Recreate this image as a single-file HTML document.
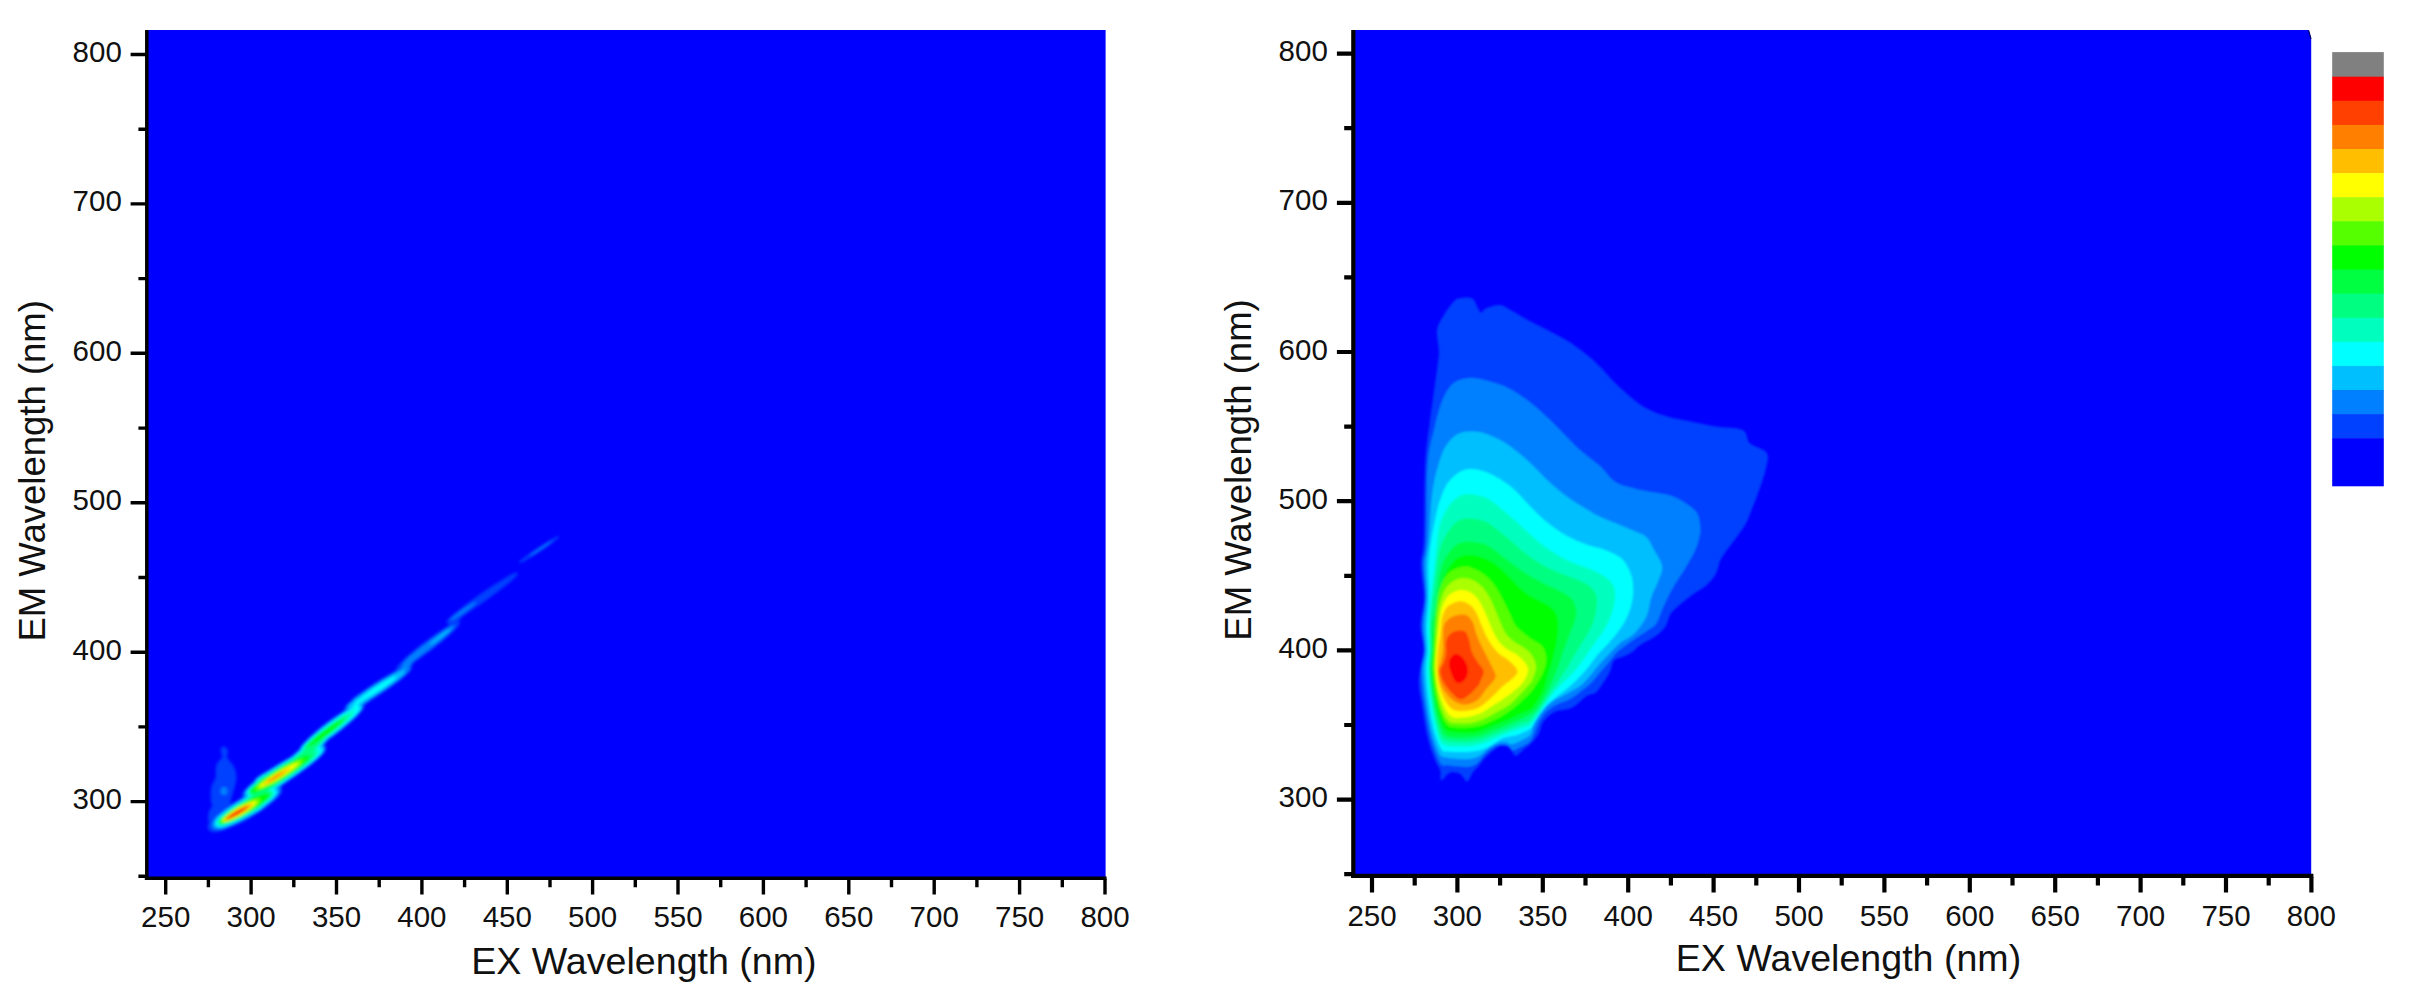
<!DOCTYPE html>
<html lang="en"><head><meta charset="utf-8"><title>EEM contour plots</title>
<style>html,body{margin:0;padding:0;background:#fff}svg{display:block}text{font-family:"Liberation Sans",Arial,Helvetica,sans-serif;fill:#111}.tk{font-size:29.5px}.tt{font-size:36.5px}</style></head><body>
<svg width="2420" height="997" viewBox="0 0 2420 997">
<defs><filter id="b1" x="-20%" y="-20%" width="140%" height="140%"><feGaussianBlur stdDeviation="1.6"/></filter><filter id="b2" x="-5%" y="-5%" width="110%" height="110%"><feGaussianBlur stdDeviation="0.85"/></filter><clipPath id="cl"><rect x="148" y="30" width="957.5" height="847"/></clipPath><clipPath id="cr"><rect x="1355" y="30" width="956.2" height="844"/></clipPath></defs>
<rect width="2420" height="997" fill="#fff"/>
<rect x="146" y="30" width="959.6" height="848.5" fill="#0000FF"/>
<g id="leftdata" clip-path="url(#cl)">
<g filter="url(#b1)">
<path d="M221 747.5L224.5 746.5L227.5 749L228 753L226.5 756.5L229 760L233 765L236 772L236.5 779L235 786L233 793L231 799L230 806L226 812L218 813L213 808L211 802L210.5 793L211.5 786L214 781L216 776L215.5 769L217 763L221 759L222.5 756L220.5 752Z" fill="#0040FF"/>
<ellipse cx="216.5" cy="817" rx="8.5" ry="12" fill="#0040FF"/>
<ellipse cx="224" cy="791" rx="3.5" ry="4" fill="#0080FF"/>
<path d="M212.0 826.0L212.6 824.1L212.9 822.3L213.0 820.1L212.7 818.0L213.1 817.5L214.1 816.9L215.0 816.2L216.0 815.5L216.9 814.8L217.8 814.1L218.8 813.5L219.7 812.8L220.7 812.1L221.6 811.4L222.5 810.8L223.5 810.1L224.4 809.4L225.4 808.7L226.3 808.1L227.3 807.5L228.3 806.9L229.2 806.2L230.2 805.6L231.2 805.0L232.2 804.4L233.1 803.8L234.1 803.1L235.1 802.5L236.0 801.9L237.0 801.3L237.9 800.7L238.9 800.1L239.8 799.5L240.7 798.9L241.6 798.2L242.6 797.6L243.5 796.9L244.5 796.3L245.5 795.6L246.5 794.9L247.4 794.3L247.0 794.6L247.0 794.9L247.3 795.0L247.8 793.6L248.4 792.1L249.1 790.5L250.1 788.4L251.1 786.4L252.4 783.9L253.8 781.2L255.3 778.5L256.9 777.1L258.9 775.6L261.2 774.0L262.3 773.4L263.3 772.8L264.3 772.2L265.3 771.6L266.3 771.0L267.4 770.4L268.4 769.8L269.4 769.2L270.4 768.6L271.5 768.0L272.5 767.4L273.5 766.8L274.5 766.2L275.6 765.6L276.6 765.0L277.6 764.4L278.6 763.8L279.6 763.2L280.7 762.6L281.7 762.0L282.7 761.4L283.7 760.8L284.8 760.2L285.8 759.6L286.8 759.1L287.6 758.7L288.4 758.3L289.2 757.9L289.9 757.3L290.8 756.6L291.6 755.8L292.6 755.0L293.7 754.0L294.7 753.1L295.8 752.2L296.7 751.3L297.6 750.5L298.6 749.7L299.5 748.6L300.5 747.6L301.5 746.5L302.5 745.3L303.6 744.1L304.7 743.0L305.8 741.7L306.9 740.5L308.1 739.2L309.2 738.1L310.3 737.1L311.5 736.0L312.5 735.0L313.6 734.1L314.6 733.1L315.7 732.2L316.7 731.2L317.9 730.1L319.1 729.0L320.3 727.9L321.4 727.0L322.6 726.2L323.8 725.4L324.8 724.7L325.8 723.9L326.8 723.2L327.8 722.5L328.9 721.8L329.9 721.1L330.9 720.4L331.9 719.7L332.9 718.9L333.9 718.3L334.9 717.6L335.9 716.9L336.8 716.1L337.8 715.4L338.8 714.6L339.8 713.8L340.8 713.1L341.8 712.3L342.9 711.5L343.9 710.7L344.9 709.9L345.5 709.5L346.2 709.0L346.9 708.5L347.7 707.1L348.6 705.6L349.5 704.1L350.7 702.1L351.9 700.1L353.2 698.0L354.5 697.0L356.0 695.9L357.6 694.9L358.6 694.2L359.6 693.6L360.6 692.9L361.6 692.3L362.6 691.6L363.6 691.0L364.7 690.3L365.7 689.7L366.7 689.0L367.7 688.4L368.7 687.7L369.7 687.1L370.8 686.4L371.8 685.8L372.8 685.1L373.8 684.5L374.8 683.8L375.8 683.2L376.9 682.5L377.9 681.9L378.9 681.2L379.9 680.6L380.9 679.9L381.9 679.3L383.0 678.6L384.0 678.0L385.0 677.3L386.0 676.7L387.0 676.0L388.0 675.4L389.1 674.8L390.1 674.1L391.1 673.5L392.1 672.8L393.1 672.2L394.1 671.5L395.1 670.9L396.2 670.2L396.8 669.9L397.5 669.5L398.3 669.1L399.1 667.8L399.9 666.5L400.8 665.1L401.8 663.6L402.9 662.0L404.0 660.3L405.2 658.6L406.3 656.9L407.6 655.9L408.8 654.9L410.1 653.9L411.1 653.2L412.1 652.4L413.2 651.7L414.2 650.9L415.2 650.2L416.2 649.4L417.2 648.7L418.2 647.9L419.3 647.2L420.3 646.4L421.3 645.7L422.3 644.9L423.3 644.2L424.3 643.4L425.4 642.7L426.4 641.9L427.4 641.2L428.4 640.4L429.4 639.6L430.5 638.9L431.5 638.2L432.5 637.4L433.5 636.7L434.6 636.0L435.6 635.3L436.6 634.5L437.6 633.8L438.6 633.1L439.6 632.4L440.7 631.6L441.7 630.9L442.7 630.2L443.7 629.5L444.7 628.7L445.5 628.2L446.3 627.7L447.1 627.2L448.0 625.7L449.0 624.1L449.9 622.6L450.9 620.9L451.9 619.3L453.1 617.5L454.2 615.6L455.3 613.8L456.5 612.9L457.7 612.0L459.0 611.1L460.0 610.4L461.0 609.6L462.0 608.9L463.1 608.2L464.1 607.5L465.1 606.8L466.1 606.1L467.1 605.3L468.2 604.6L469.2 603.9L470.2 603.2L471.2 602.5L472.2 601.7L473.2 601.0L474.3 600.3L475.3 599.6L476.3 598.9L477.3 598.2L478.3 597.4L479.4 596.7L480.4 596.0L481.4 595.3L482.4 594.6L483.4 593.9L484.5 593.1L485.5 592.4L486.5 591.7L487.6 591.1L488.6 590.4L489.6 589.7L490.7 589.1L491.7 588.4L492.7 587.8L493.8 587.1L494.8 586.4L495.8 585.8L496.9 585.1L497.9 584.5L498.9 583.8L500.0 583.1L501.0 582.5L502.0 581.8L503.1 581.2L504.1 580.5L505.1 579.8L506.2 579.2L507.2 578.5L508.2 577.9L509.3 577.2L510.4 576.7L511.5 576.1L512.6 575.6L513.8 575.0L514.9 574.5L516.0 574.0L516.0 574.0L515.1 574.9L514.2 575.8L513.4 576.6L512.5 577.5L511.6 578.4L510.7 579.3L509.8 580.0L508.8 580.8L507.8 581.5L506.9 582.3L505.9 583.1L504.9 583.8L504.0 584.6L503.0 585.3L502.0 586.1L501.1 586.8L500.1 587.6L499.1 588.3L498.2 589.1L497.2 589.8L496.2 590.6L495.3 591.4L494.3 592.1L493.3 592.9L492.4 593.6L491.4 594.4L490.4 595.1L489.5 595.9L488.5 596.6L487.5 597.4L486.6 598.1L485.6 598.9L484.6 599.6L483.6 600.4L482.6 601.2L481.7 601.9L480.7 602.7L479.7 603.5L478.7 604.2L477.7 605.0L476.8 605.8L475.8 606.5L474.8 607.3L473.8 608.1L472.8 608.8L471.8 609.6L470.9 610.4L469.9 611.1L468.9 611.9L467.9 612.7L466.9 613.4L466.0 614.2L465.0 615.0L464.0 615.7L463.0 616.5L462.3 617.0L461.5 617.6L460.7 618.2L459.8 619.7L458.9 621.3L458.1 622.9L457.1 624.6L456.1 626.3L455.0 628.1L454.0 630.0L452.9 631.8L451.7 632.8L450.5 633.8L449.3 634.8L448.3 635.5L447.3 636.3L446.3 637.1L445.3 637.9L444.4 638.6L443.4 639.4L442.4 640.2L441.4 641.0L440.4 641.7L439.4 642.5L438.5 643.3L437.5 644.1L436.5 644.8L435.5 645.6L434.6 646.4L433.6 647.1L432.6 647.9L431.6 648.7L430.6 649.5L429.7 650.3L428.7 651.1L427.7 651.9L426.7 652.7L425.7 653.5L424.7 654.3L423.8 655.1L422.8 655.9L421.8 656.7L420.8 657.5L419.8 658.3L418.8 659.0L417.9 659.8L416.9 660.6L415.9 661.4L415.2 662.0L414.4 662.6L413.7 663.1L412.8 664.5L412.0 665.9L411.1 667.3L410.2 668.9L409.2 670.5L408.1 672.3L406.9 674.0L405.7 675.9L404.5 676.8L403.2 677.8L401.8 678.8L400.9 679.4L399.9 680.1L398.9 680.8L397.9 681.5L396.9 682.2L395.9 682.9L394.9 683.6L394.0 684.3L393.0 685.0L392.0 685.7L391.0 686.3L390.0 687.0L389.0 687.7L388.1 688.4L387.1 689.1L386.1 689.8L385.1 690.5L384.1 691.2L383.1 691.9L382.2 692.6L381.2 693.3L380.2 694.0L379.2 694.7L378.2 695.4L377.2 696.0L376.3 696.7L375.3 697.4L374.3 698.1L373.3 698.8L372.3 699.5L371.3 700.2L370.4 700.9L369.4 701.6L368.4 702.3L367.4 703.0L366.4 703.7L365.4 704.4L364.4 705.1L364.0 705.4L363.5 705.7L362.8 706.0L362.1 707.4L361.3 708.9L360.5 710.4L359.4 712.4L358.3 714.4L357.1 716.5L355.8 717.6L354.5 718.8L353.1 720.0L352.1 720.8L351.1 721.7L350.2 722.5L349.2 723.3L348.2 724.2L347.2 725.0L346.2 725.9L345.2 726.8L344.1 727.6L343.1 728.4L342.1 729.2L341.1 730.0L340.1 730.7L339.1 731.5L338.1 732.3L337.1 733.0L336.2 733.8L335.2 734.5L334.2 735.3L333.2 736.1L332.2 736.8L331.4 737.4L330.6 738.1L329.7 738.7L328.9 739.6L328.1 740.6L327.3 741.5L326.3 742.6L325.4 743.7L324.4 744.7L323.5 745.8L322.5 746.9L321.7 747.9L320.8 748.8L319.9 749.8L319.1 751.0L318.2 752.2L317.3 753.4L316.4 754.6L315.5 755.9L314.5 757.2L313.5 758.5L312.5 759.9L311.4 761.3L310.4 762.5L309.3 763.6L308.2 764.8L307.3 765.8L306.3 766.9L305.4 767.9L304.4 769.0L303.2 770.2L302.1 771.5L300.8 772.6L299.6 773.6L298.4 774.5L297.2 775.3L296.2 776.0L295.2 776.7L294.3 777.4L293.3 778.1L292.3 778.7L291.3 779.4L290.4 780.1L289.4 780.7L288.4 781.4L287.4 782.1L286.4 782.8L285.5 783.4L284.5 784.1L283.5 784.8L282.5 785.5L281.6 786.1L280.6 786.8L279.6 787.5L278.6 788.1L277.7 788.8L276.7 789.5L275.7 790.2L274.7 790.8L273.7 791.5L272.8 792.2L273.1 791.9L273.1 791.6L272.7 791.5L272.2 792.9L271.6 794.4L270.9 796.0L269.9 798.1L268.9 800.1L267.6 802.6L266.2 805.3L264.7 808.0L263.0 809.4L261.0 810.9L258.6 812.4L257.5 813.0L256.5 813.6L255.5 814.1L254.5 814.7L253.4 815.3L252.4 815.8L251.3 816.4L250.2 817.0L249.1 817.6L248.1 818.1L247.0 818.7L246.0 819.2L244.9 819.7L243.9 820.2L242.9 820.8L241.8 821.3L240.8 821.8L239.8 822.3L238.8 822.9L237.7 823.4L236.7 823.9L235.7 824.4L234.6 825.0L233.6 825.4L232.5 825.9L231.5 826.4L230.4 826.8L229.3 827.3L228.3 827.8L227.2 828.2L226.2 828.7L225.1 829.2L224.0 829.6L223.0 830.1L221.9 830.6L220.9 831.0L219.3 831.8L217.0 830.8L215.1 829.7L213.4 827.9L212.0 826.0Z" fill="#0040FF"/>
<path d="M208.0 829.6L207.7 824.9L209.0 822.8L210.4 820.9L211.9 819.2L213.4 817.7L215.0 816.1L216.6 814.7L218.3 813.3L220.0 811.9L221.7 810.6L223.4 809.3L225.1 808.0L226.9 806.7L228.6 805.5L230.4 804.3L232.2 803.2L234.0 802.0L235.8 800.9L237.6 799.8L239.5 798.7L241.3 797.6L243.2 796.6L245.1 795.6L247.0 794.6L248.9 793.6L250.8 792.7L252.8 791.8L254.7 790.9L256.7 790.0L258.7 789.2L260.7 788.4L262.7 787.6L264.7 786.9L266.8 786.2L268.9 785.6L271.1 785.0L273.3 784.6L275.6 784.3L278.0 784.3L282.0 786.9L282.3 791.6L281.0 793.7L279.6 795.6L278.1 797.3L276.6 798.9L275.0 800.4L273.4 801.8L271.7 803.2L270.0 804.6L268.3 805.9L266.6 807.2L264.9 808.5L263.1 809.8L261.4 811.0L259.6 812.2L257.8 813.4L256.0 814.5L254.2 815.6L252.4 816.7L250.5 817.8L248.7 818.9L246.8 819.9L244.9 820.9L243.0 821.9L241.1 822.9L239.2 823.8L237.2 824.7L235.3 825.6L233.3 826.5L231.3 827.3L229.3 828.1L227.3 828.9L225.3 829.6L223.2 830.3L221.1 830.9L218.9 831.5L216.7 831.9L214.4 832.2L212.0 832.2Z" fill="#0040FF"/>
<path d="M242.0 797.8L242.1 793.3L243.6 791.0L245.3 789.1L247.1 787.2L248.9 785.5L250.8 783.8L252.7 782.2L254.6 780.6L256.5 779.0L258.5 777.5L260.4 776.0L262.4 774.5L264.4 773.1L266.5 771.6L268.5 770.2L270.5 768.9L272.6 767.5L274.7 766.2L276.7 764.8L278.8 763.5L280.9 762.2L283.1 761.0L285.2 759.7L287.3 758.5L289.5 757.3L291.7 756.1L293.8 755.0L296.0 753.8L298.2 752.7L300.5 751.6L302.7 750.6L305.0 749.5L307.3 748.5L309.6 747.6L311.9 746.7L314.3 745.8L316.7 745.1L319.2 744.5L321.9 744.1L326.0 746.0L325.9 750.5L324.4 752.8L322.7 754.7L320.9 756.6L319.1 758.3L317.2 760.0L315.3 761.6L313.4 763.2L311.5 764.8L309.5 766.3L307.6 767.8L305.6 769.3L303.6 770.7L301.5 772.2L299.5 773.6L297.5 774.9L295.4 776.3L293.3 777.7L291.3 779.0L289.2 780.3L287.1 781.6L284.9 782.8L282.8 784.1L280.7 785.3L278.5 786.5L276.3 787.7L274.2 788.8L272.0 790.0L269.8 791.1L267.5 792.2L265.3 793.2L263.0 794.3L260.7 795.3L258.4 796.2L256.1 797.1L253.7 798.0L251.3 798.7L248.8 799.3L246.1 799.7Z" fill="#0040FF"/>
<path d="M299.0 752.8L298.9 749.2L300.0 747.3L301.2 745.6L302.6 744.0L303.9 742.4L305.3 740.9L306.8 739.4L308.2 738.0L309.7 736.6L311.2 735.2L312.7 733.8L314.3 732.5L315.8 731.1L317.4 729.8L318.9 728.5L320.5 727.2L322.1 726.0L323.7 724.7L325.3 723.5L326.9 722.3L328.5 721.0L330.2 719.8L331.8 718.7L333.5 717.5L335.2 716.3L336.9 715.2L338.6 714.1L340.3 713.0L342.0 711.9L343.7 710.8L345.5 709.8L347.2 708.7L349.0 707.7L350.8 706.8L352.7 705.8L354.6 705.0L356.5 704.1L358.5 703.4L360.6 702.9L364.0 704.0L364.1 707.5L363.0 709.5L361.8 711.2L360.4 712.8L359.1 714.3L357.7 715.8L356.2 717.3L354.8 718.8L353.3 720.2L351.8 721.6L350.3 722.9L348.7 724.3L347.2 725.6L345.6 726.9L344.1 728.2L342.5 729.5L340.9 730.8L339.3 732.0L337.7 733.3L336.1 734.5L334.5 735.7L332.8 736.9L331.2 738.1L329.5 739.3L327.8 740.4L326.1 741.5L324.4 742.7L322.7 743.8L321.0 744.9L319.3 745.9L317.5 747.0L315.8 748.0L314.0 749.0L312.2 750.0L310.3 750.9L308.4 751.8L306.5 752.6L304.5 753.3L302.4 753.9Z" fill="#0040FF"/>
<path d="M344.0 710.5L344.4 707.4L345.7 705.7L347.1 704.1L348.6 702.7L350.1 701.3L351.7 700.0L353.2 698.6L354.8 697.3L356.4 696.1L358.0 694.8L359.6 693.6L361.2 692.4L362.9 691.2L364.5 690.0L366.2 688.8L367.8 687.6L369.5 686.5L371.2 685.4L372.9 684.2L374.6 683.1L376.3 682.0L378.0 680.9L379.7 679.9L381.4 678.8L383.2 677.7L384.9 676.7L386.7 675.7L388.4 674.7L390.2 673.7L392.0 672.7L393.8 671.8L395.6 670.8L397.4 669.9L399.3 669.0L401.1 668.2L403.0 667.3L404.9 666.6L406.9 665.9L409.0 665.4L412.0 666.3L411.6 669.4L410.3 671.1L408.9 672.7L407.4 674.1L405.9 675.5L404.3 676.8L402.8 678.2L401.2 679.5L399.6 680.7L398.0 682.0L396.4 683.2L394.8 684.4L393.1 685.6L391.5 686.8L389.8 688.0L388.2 689.2L386.5 690.3L384.8 691.4L383.1 692.6L381.4 693.7L379.7 694.8L378.0 695.9L376.3 696.9L374.6 698.0L372.8 699.1L371.1 700.1L369.3 701.1L367.6 702.1L365.8 703.1L364.0 704.1L362.2 705.0L360.4 706.0L358.6 706.9L356.7 707.8L354.9 708.6L353.0 709.5L351.1 710.2L349.1 710.9L347.0 711.4Z" fill="#0040FF"/>
<path d="M396.0 670.4L396.4 667.6L397.6 665.9L399.0 664.3L400.4 662.8L401.8 661.4L403.3 660.0L404.7 658.6L406.2 657.2L407.7 655.9L409.2 654.6L410.8 653.2L412.3 651.9L413.8 650.6L415.4 649.4L416.9 648.1L418.5 646.8L420.1 645.6L421.7 644.3L423.2 643.1L424.8 641.9L426.4 640.7L428.1 639.5L429.7 638.3L431.3 637.1L432.9 635.9L434.6 634.8L436.2 633.6L437.9 632.5L439.6 631.3L441.2 630.2L442.9 629.1L444.6 628.0L446.3 627.0L448.1 625.9L449.8 624.9L451.6 623.9L453.4 623.0L455.2 622.1L457.2 621.4L460.0 621.7L459.6 624.5L458.4 626.2L457.0 627.8L455.6 629.2L454.2 630.7L452.7 632.1L451.3 633.5L449.8 634.8L448.3 636.2L446.8 637.5L445.2 638.8L443.7 640.2L442.2 641.4L440.6 642.7L439.1 644.0L437.5 645.3L435.9 646.5L434.3 647.7L432.8 649.0L431.2 650.2L429.6 651.4L427.9 652.6L426.3 653.8L424.7 655.0L423.1 656.2L421.4 657.3L419.8 658.5L418.1 659.6L416.4 660.7L414.8 661.8L413.1 662.9L411.4 664.0L409.7 665.1L407.9 666.1L406.2 667.2L404.4 668.2L402.6 669.1L400.8 670.0L398.8 670.7Z" fill="#0040FF"/>
<path d="M446.0 623.2L446.9 620.6L448.4 619.0L450.0 617.4L451.7 616.0L453.3 614.5L455.0 613.1L456.7 611.7L458.4 610.3L460.2 608.9L461.9 607.6L463.6 606.2L465.4 604.9L467.1 603.6L468.9 602.3L470.7 601.0L472.4 599.7L474.2 598.4L476.0 597.1L477.8 595.8L479.6 594.6L481.4 593.3L483.2 592.1L485.0 590.8L486.8 589.6L488.7 588.4L490.5 587.1L492.3 585.9L494.2 584.7L496.0 583.6L497.9 582.4L499.8 581.2L501.6 580.1L503.5 578.9L505.4 577.8L507.3 576.7L509.3 575.6L511.2 574.6L513.2 573.6L515.3 572.8L518.0 572.8L517.1 575.4L515.6 577.0L514.0 578.6L512.3 580.0L510.7 581.5L509.0 582.9L507.3 584.3L505.6 585.7L503.8 587.1L502.1 588.4L500.4 589.8L498.6 591.1L496.9 592.4L495.1 593.7L493.3 595.0L491.6 596.3L489.8 597.6L488.0 598.9L486.2 600.2L484.4 601.4L482.6 602.7L480.8 603.9L479.0 605.2L477.2 606.4L475.3 607.6L473.5 608.9L471.7 610.1L469.8 611.3L468.0 612.4L466.1 613.6L464.2 614.8L462.4 615.9L460.5 617.1L458.6 618.2L456.7 619.3L454.7 620.4L452.8 621.4L450.8 622.4L448.7 623.2Z" fill="#0040FF"/>
<path d="M519.0 563.0L519.5 561.6L520.4 560.7L521.3 559.9L522.2 559.1L523.2 558.4L524.1 557.6L525.0 556.9L526.0 556.1L527.0 555.4L527.9 554.7L528.9 554.0L529.9 553.3L530.9 552.6L531.8 551.9L532.8 551.2L533.8 550.5L534.8 549.8L535.8 549.2L536.8 548.5L537.8 547.8L538.8 547.2L539.8 546.5L540.8 545.9L541.8 545.2L542.8 544.6L543.8 543.9L544.9 543.3L545.9 542.7L546.9 542.0L547.9 541.4L549.0 540.8L550.0 540.2L551.0 539.6L552.1 539.0L553.2 538.4L554.2 537.9L555.3 537.3L556.4 536.8L557.5 536.3L559.0 536.4L558.5 537.7L557.6 538.6L556.7 539.4L555.8 540.2L554.8 541.0L553.9 541.7L553.0 542.5L552.0 543.2L551.0 543.9L550.1 544.6L549.1 545.3L548.1 546.0L547.1 546.7L546.2 547.4L545.2 548.1L544.2 548.8L543.2 549.5L542.2 550.2L541.2 550.8L540.2 551.5L539.2 552.2L538.2 552.8L537.2 553.5L536.2 554.1L535.2 554.8L534.2 555.4L533.1 556.0L532.1 556.7L531.1 557.3L530.1 557.9L529.0 558.5L528.0 559.1L527.0 559.7L525.9 560.3L524.8 560.9L523.8 561.5L522.7 562.0L521.6 562.5L520.5 563.0Z" fill="#0040FF"/>
<path d="M214.0 826.0L214.4 823.8L214.5 821.8L214.5 819.9L214.6 817.8L215.6 817.1L216.5 816.4L217.4 815.8L218.4 815.1L219.3 814.4L220.2 813.7L221.2 813.0L222.1 812.3L223.1 811.7L224.0 811.0L224.9 810.3L225.9 809.6L226.8 809.0L227.8 808.4L228.8 807.7L229.7 807.1L230.7 806.5L231.7 805.9L232.6 805.2L233.6 804.6L234.6 804.0L235.6 803.3L236.5 802.7L237.5 802.1L238.4 801.5L239.3 800.9L240.3 800.3L241.2 799.6L242.1 799.0L243.1 798.4L244.0 797.7L245.0 797.0L246.0 796.4L246.9 795.7L247.9 795.0L247.6 795.3L247.7 795.5L248.0 795.5L248.5 794.1L249.2 792.5L249.9 790.9L250.8 788.8L251.9 786.8L253.1 784.3L254.5 781.7L255.9 779.0L257.6 777.7L259.5 776.2L261.7 774.7L262.7 774.1L263.7 773.5L264.8 772.9L265.8 772.3L266.8 771.7L267.8 771.1L268.8 770.5L269.9 769.9L270.9 769.3L271.9 768.7L272.9 768.1L274.0 767.5L275.0 766.9L276.0 766.3L277.0 765.7L278.1 765.1L279.1 764.5L280.1 763.9L281.1 763.3L282.1 762.7L283.2 762.1L284.2 761.5L285.2 760.9L286.3 760.4L287.3 759.8L288.1 759.4L288.9 759.0L289.7 758.6L290.5 758.0L291.3 757.2L292.2 756.5L293.2 755.6L294.2 754.6L295.3 753.7L296.4 752.8L297.3 751.9L298.3 751.1L299.2 750.3L300.2 749.2L301.2 748.1L302.1 747.0L303.2 745.9L304.3 744.7L305.3 743.5L306.4 742.3L307.6 741.0L308.7 739.8L309.8 738.7L310.9 737.7L312.1 736.6L313.1 735.6L314.2 734.7L315.2 733.7L316.3 732.7L317.3 731.8L318.5 730.7L319.7 729.6L320.8 728.5L322.0 727.7L323.1 726.9L324.3 726.1L325.3 725.4L326.3 724.7L327.4 723.9L328.4 723.2L329.4 722.5L330.4 721.8L331.4 721.1L332.5 720.4L333.5 719.7L334.5 719.0L335.5 718.3L336.4 717.7L337.4 716.9L338.4 716.2L339.4 715.4L340.4 714.6L341.4 713.8L342.5 713.0L343.5 712.3L344.5 711.5L345.5 710.7L346.2 710.2L346.9 709.7L347.8 709.2L348.6 707.7L349.5 706.2L350.4 704.6L351.6 702.7L352.8 700.7L354.0 698.7L355.3 697.8L356.7 696.8L358.2 695.8L359.2 695.1L360.2 694.5L361.2 693.8L362.3 693.2L363.3 692.6L364.3 691.9L365.3 691.3L366.3 690.6L367.4 690.0L368.4 689.3L369.4 688.7L370.4 688.1L371.4 687.4L372.4 686.8L373.5 686.1L374.5 685.5L375.5 684.8L376.5 684.2L377.5 683.5L378.6 682.9L379.6 682.3L380.6 681.6L381.6 681.0L382.7 680.3L383.7 679.7L384.7 679.1L385.7 678.5L386.8 677.8L387.8 677.2L388.8 676.6L389.9 675.9L390.9 675.3L391.9 674.7L392.9 674.1L394.0 673.4L395.0 672.8L396.0 672.2L397.0 671.6L397.8 671.1L398.6 670.7L399.5 670.2L400.4 668.9L401.3 667.5L402.3 666.1L403.3 664.5L404.3 663.0L405.4 661.3L406.6 659.7L407.7 658.0L408.9 657.2L410.0 656.3L411.2 655.4L412.3 654.7L413.3 653.9L414.3 653.2L415.4 652.5L416.4 651.7L417.4 651.0L418.4 650.3L419.5 649.5L420.5 648.8L421.5 648.1L422.6 647.3L423.6 646.6L424.6 645.9L425.7 645.1L426.7 644.4L427.7 643.7L428.8 642.9L429.8 642.2L430.8 641.5L431.9 640.7L432.9 640.0L433.9 639.3L435.0 638.6L436.0 637.9L437.0 637.2L438.1 636.5L439.1 635.8L440.1 635.1L441.1 634.4L442.2 633.6L443.2 632.9L444.2 632.2L445.3 631.6L446.5 631.0L447.5 630.5L448.6 629.9L449.7 629.3L450.9 627.7L452.0 626.1L452.0 626.1L451.1 627.9L450.3 629.7L449.4 630.6L448.5 631.5L447.5 632.5L446.7 633.4L445.8 634.3L444.8 635.1L443.8 635.9L442.9 636.6L441.9 637.4L440.9 638.2L439.9 639.0L439.0 639.8L438.0 640.6L437.0 641.4L436.1 642.2L435.1 643.0L434.1 643.8L433.2 644.5L432.2 645.4L431.2 646.2L430.3 647.0L429.3 647.8L428.3 648.6L427.4 649.4L426.4 650.2L425.4 651.0L424.5 651.9L423.5 652.7L422.5 653.5L421.6 654.3L420.6 655.1L419.6 655.9L418.6 656.7L417.7 657.5L416.7 658.3L415.7 659.2L414.8 660.0L414.0 660.6L413.1 661.3L412.3 662.0L411.4 663.4L410.6 664.9L409.7 666.4L408.7 668.0L407.7 669.6L406.7 671.3L405.6 673.0L404.5 674.8L403.4 675.6L402.2 676.5L401.0 677.4L400.0 678.2L399.0 678.9L398.0 679.6L397.1 680.3L396.1 681.0L395.1 681.7L394.1 682.4L393.2 683.1L392.2 683.8L391.2 684.5L390.3 685.2L389.3 685.9L388.3 686.6L387.3 687.3L386.4 688.0L385.4 688.7L384.4 689.4L383.4 690.1L382.5 690.8L381.5 691.5L380.5 692.2L379.5 692.9L378.5 693.6L377.6 694.3L376.6 695.1L375.6 695.8L374.6 696.5L373.6 697.2L372.6 697.9L371.7 698.6L370.7 699.3L369.7 700.0L368.7 700.7L367.7 701.4L366.8 702.1L365.8 702.8L364.8 703.5L363.8 704.2L363.3 704.5L362.7 704.9L362.0 705.3L361.2 706.8L360.4 708.3L359.6 709.9L358.5 711.8L357.4 713.8L356.2 715.8L355.1 716.9L353.8 718.0L352.5 719.2L351.5 720.0L350.5 720.9L349.5 721.7L348.6 722.6L347.6 723.4L346.6 724.3L345.6 725.1L344.6 726.0L343.6 726.8L342.5 727.6L341.5 728.4L340.5 729.2L339.5 730.0L338.6 730.8L337.6 731.5L336.6 732.3L335.6 733.0L334.6 733.8L333.7 734.6L332.7 735.3L331.7 736.1L330.9 736.8L330.0 737.4L329.2 738.1L328.3 739.0L327.5 740.0L326.7 740.9L325.7 742.0L324.8 743.1L323.8 744.1L322.9 745.2L321.9 746.3L321.1 747.3L320.2 748.3L319.3 749.2L318.4 750.4L317.6 751.6L316.7 752.8L315.7 754.1L314.8 755.4L313.9 756.6L312.8 758.0L311.8 759.4L310.8 760.7L309.7 761.9L308.7 763.0L307.6 764.2L306.7 765.2L305.8 766.3L304.8 767.3L303.8 768.4L302.7 769.6L301.5 770.9L300.3 772.0L299.1 772.9L297.9 773.8L296.7 774.6L295.7 775.3L294.8 776.0L293.8 776.7L292.8 777.3L291.9 778.0L290.9 778.7L289.9 779.4L288.9 780.0L287.9 780.7L287.0 781.4L286.0 782.0L285.0 782.7L284.0 783.4L283.1 784.1L282.1 784.7L281.1 785.4L280.1 786.1L279.2 786.7L278.2 787.4L277.2 788.1L276.2 788.8L275.2 789.4L274.3 790.1L273.3 790.8L272.3 791.4L272.5 791.2L272.4 791.0L272.1 791.0L271.5 792.4L270.9 794.0L270.1 795.6L269.2 797.7L268.1 799.7L266.8 802.2L265.5 804.8L264.0 807.5L262.3 808.8L260.4 810.2L258.1 811.7L257.1 812.2L256.0 812.8L255.0 813.3L254.0 813.9L252.9 814.5L251.9 815.1L250.8 815.6L249.7 816.2L248.7 816.8L247.6 817.3L246.5 817.9L245.5 818.4L244.4 818.9L243.4 819.4L242.4 819.9L241.4 820.4L240.3 821.0L239.3 821.5L238.3 822.0L237.2 822.5L236.2 823.0L235.2 823.6L234.1 824.1L233.1 824.5L232.0 825.0L230.9 825.5L229.9 825.9L228.8 826.4L227.8 826.8L226.7 827.3L225.6 827.8L224.6 828.2L223.5 828.7L222.4 829.2L221.4 829.6L219.5 828.7L217.5 827.9L215.6 827.0L214.0 826.0Z" fill="#0080FF"/>
<path d="M212.0 827.3L211.9 823.2L213.1 821.3L214.4 819.7L215.8 818.2L217.2 816.7L218.7 815.4L220.2 814.0L221.7 812.8L223.3 811.5L224.8 810.3L226.4 809.1L228.0 808.0L229.6 806.8L231.3 805.7L232.9 804.6L234.5 803.6L236.2 802.5L237.9 801.5L239.6 800.5L241.3 799.5L243.0 798.5L244.7 797.5L246.4 796.6L248.1 795.7L249.9 794.8L251.7 793.9L253.4 793.1L255.2 792.2L257.0 791.4L258.8 790.7L260.7 789.9L262.5 789.2L264.4 788.5L266.3 787.8L268.2 787.2L270.2 786.7L272.2 786.3L274.3 785.9L276.5 785.9L280.0 788.0L280.1 792.1L278.9 794.0L277.6 795.7L276.2 797.2L274.8 798.6L273.3 800.0L271.8 801.3L270.3 802.6L268.7 803.8L267.2 805.0L265.6 806.2L264.0 807.4L262.4 808.5L260.7 809.6L259.1 810.7L257.5 811.8L255.8 812.8L254.1 813.9L252.4 814.9L250.7 815.9L249.0 816.9L247.3 817.8L245.6 818.7L243.9 819.7L242.1 820.6L240.3 821.4L238.6 822.3L236.8 823.1L235.0 823.9L233.2 824.7L231.3 825.5L229.5 826.2L227.6 826.9L225.7 827.5L223.8 828.1L221.8 828.7L219.8 829.1L217.7 829.4L215.5 829.5Z" fill="#0080FF"/>
<path d="M244.0 796.5L244.2 792.4L245.7 790.3L247.4 788.4L249.1 786.6L250.8 785.0L252.6 783.4L254.5 781.8L256.3 780.3L258.2 778.8L260.1 777.3L262.0 775.9L263.9 774.5L265.9 773.1L267.8 771.7L269.8 770.4L271.8 769.1L273.7 767.7L275.7 766.4L277.7 765.2L279.8 763.9L281.8 762.7L283.8 761.5L285.9 760.3L288.0 759.1L290.0 757.9L292.1 756.8L294.2 755.6L296.3 754.5L298.5 753.4L300.6 752.4L302.8 751.4L304.9 750.4L307.1 749.4L309.3 748.4L311.6 747.6L313.9 746.7L316.2 746.0L318.6 745.3L321.2 745.0L325.0 746.6L324.8 750.8L323.3 752.9L321.6 754.8L319.9 756.6L318.2 758.2L316.4 759.8L314.5 761.4L312.7 762.9L310.8 764.4L308.9 765.9L307.0 767.3L305.1 768.7L303.1 770.1L301.2 771.5L299.2 772.8L297.2 774.1L295.3 775.5L293.3 776.7L291.3 778.0L289.2 779.3L287.2 780.5L285.2 781.7L283.1 782.9L281.0 784.1L279.0 785.3L276.9 786.4L274.8 787.6L272.7 788.7L270.5 789.7L268.4 790.8L266.2 791.8L264.1 792.8L261.9 793.8L259.7 794.7L257.4 795.6L255.1 796.5L252.8 797.2L250.4 797.8L247.8 798.2Z" fill="#0080FF"/>
<path d="M300.0 752.0L300.0 748.8L301.1 746.9L302.4 745.3L303.7 743.8L305.0 742.3L306.4 740.9L307.8 739.5L309.3 738.1L310.7 736.8L312.2 735.4L313.6 734.1L315.1 732.8L316.6 731.5L318.1 730.3L319.7 729.0L321.2 727.8L322.7 726.5L324.3 725.3L325.8 724.1L327.4 722.9L329.0 721.8L330.6 720.6L332.2 719.4L333.8 718.3L335.4 717.2L337.0 716.1L338.7 715.0L340.3 713.9L342.0 712.8L343.7 711.8L345.4 710.8L347.1 709.8L348.8 708.8L350.5 707.8L352.3 706.9L354.1 706.0L355.9 705.2L357.8 704.4L359.9 703.9L363.0 704.8L363.0 708.0L361.9 709.8L360.6 711.4L359.3 713.0L358.0 714.4L356.6 715.9L355.2 717.3L353.7 718.6L352.3 720.0L350.8 721.3L349.4 722.6L347.9 723.9L346.4 725.2L344.9 726.5L343.3 727.7L341.8 729.0L340.3 730.2L338.7 731.4L337.2 732.6L335.6 733.8L334.0 735.0L332.4 736.2L330.8 737.3L329.2 738.4L327.6 739.6L326.0 740.7L324.3 741.8L322.7 742.8L321.0 743.9L319.3 745.0L317.6 746.0L315.9 747.0L314.2 748.0L312.5 748.9L310.7 749.9L308.9 750.8L307.1 751.6L305.2 752.3L303.1 752.9Z" fill="#0080FF"/>
<path d="M346.0 709.2L346.5 706.5L347.8 705.0L349.2 703.6L350.6 702.2L352.0 701.0L353.5 699.7L355.0 698.5L356.5 697.3L358.0 696.1L359.5 695.0L361.0 693.8L362.6 692.7L364.1 691.6L365.7 690.5L367.2 689.4L368.8 688.3L370.4 687.2L372.0 686.1L373.6 685.1L375.2 684.0L376.8 683.0L378.4 682.0L380.0 680.9L381.6 679.9L383.2 679.0L384.9 678.0L386.5 677.0L388.2 676.0L389.8 675.1L391.5 674.2L393.2 673.2L394.9 672.3L396.6 671.5L398.3 670.6L400.0 669.8L401.8 669.0L403.6 668.2L405.4 667.5L407.3 667.0L410.0 667.6L409.5 670.3L408.2 671.8L406.8 673.2L405.4 674.6L404.0 675.8L402.5 677.1L401.0 678.3L399.5 679.5L398.0 680.7L396.5 681.8L395.0 683.0L393.4 684.1L391.9 685.2L390.3 686.3L388.8 687.4L387.2 688.5L385.6 689.6L384.0 690.7L382.4 691.7L380.8 692.8L379.2 693.8L377.6 694.8L376.0 695.9L374.4 696.9L372.8 697.8L371.1 698.8L369.5 699.8L367.8 700.8L366.2 701.7L364.5 702.6L362.8 703.6L361.1 704.5L359.4 705.3L357.7 706.2L356.0 707.0L354.2 707.8L352.4 708.6L350.6 709.3L348.7 709.8Z" fill="#0080FF"/>
<path d="M402.0 665.8L402.5 663.8L403.6 662.4L404.8 661.2L406.0 660.0L407.2 658.9L408.4 657.7L409.7 656.6L410.9 655.5L412.2 654.4L413.4 653.3L414.7 652.3L416.0 651.2L417.3 650.1L418.6 649.1L419.9 648.1L421.2 647.0L422.5 646.0L423.8 645.0L425.1 643.9L426.4 642.9L427.8 641.9L429.1 640.9L430.4 639.9L431.8 639.0L433.1 638.0L434.5 637.0L435.8 636.0L437.2 635.1L438.6 634.1L439.9 633.2L441.3 632.3L442.7 631.4L444.1 630.4L445.5 629.5L446.9 628.7L448.4 627.8L449.8 627.0L451.3 626.2L452.9 625.5L455.0 625.5L454.5 627.6L453.4 628.9L452.2 630.1L451.0 631.3L449.8 632.4L448.6 633.6L447.3 634.7L446.1 635.8L444.8 636.9L443.6 638.0L442.3 639.1L441.0 640.1L439.7 641.2L438.4 642.2L437.1 643.3L435.8 644.3L434.5 645.3L433.2 646.4L431.9 647.4L430.6 648.4L429.2 649.4L427.9 650.4L426.6 651.4L425.2 652.4L423.9 653.3L422.5 654.3L421.2 655.3L419.8 656.2L418.4 657.2L417.1 658.1L415.7 659.0L414.3 660.0L412.9 660.9L411.5 661.8L410.1 662.7L408.6 663.5L407.2 664.3L405.7 665.1L404.1 665.8Z" fill="#0080FF"/>
<path d="M450.0 620.4L450.3 619.4L450.8 618.8L451.4 618.3L452.0 617.7L452.6 617.2L453.2 616.7L453.8 616.2L454.5 615.7L455.1 615.2L455.7 614.7L456.3 614.2L457.0 613.7L457.6 613.3L458.2 612.8L458.9 612.3L459.5 611.8L460.1 611.4L460.8 610.9L461.4 610.4L462.1 610.0L462.7 609.5L463.4 609.1L464.0 608.6L464.7 608.2L465.4 607.8L466.0 607.3L466.7 606.9L467.4 606.5L468.0 606.0L468.7 605.6L469.4 605.2L470.1 604.8L470.7 604.4L471.4 604.0L472.1 603.6L472.8 603.2L473.5 602.8L474.2 602.5L475.0 602.2L476.0 602.2L475.7 603.2L475.2 603.8L474.6 604.3L474.0 604.9L473.4 605.4L472.8 605.9L472.2 606.4L471.5 606.9L470.9 607.4L470.3 607.9L469.7 608.4L469.0 608.9L468.4 609.3L467.8 609.8L467.1 610.3L466.5 610.8L465.9 611.2L465.2 611.7L464.6 612.2L463.9 612.6L463.3 613.1L462.6 613.5L462.0 614.0L461.3 614.4L460.6 614.8L460.0 615.3L459.3 615.7L458.6 616.1L458.0 616.6L457.3 617.0L456.6 617.4L455.9 617.8L455.3 618.2L454.6 618.6L453.9 619.0L453.2 619.4L452.5 619.8L451.8 620.1L451.0 620.4Z" fill="#0080FF"/>
<path d="M530.0 555.6L530.4 555.0L530.9 554.5L531.4 554.1L531.9 553.7L532.4 553.3L532.9 552.9L533.5 552.5L534.0 552.1L534.5 551.7L535.1 551.3L535.6 551.0L536.1 550.6L536.7 550.2L537.2 549.8L537.8 549.4L538.3 549.1L538.9 548.7L539.4 548.3L540.0 548.0L540.5 547.6L541.1 547.2L541.6 546.9L542.2 546.5L542.7 546.1L543.3 545.8L543.8 545.4L544.4 545.1L544.9 544.7L545.5 544.4L546.1 544.0L546.6 543.7L547.2 543.3L547.8 543.0L548.3 542.7L548.9 542.3L549.5 542.0L550.1 541.7L550.7 541.4L551.3 541.1L552.0 541.0L551.6 541.7L551.1 542.1L550.6 542.5L550.1 543.0L549.6 543.4L549.1 543.8L548.5 544.2L548.0 544.6L547.5 544.9L546.9 545.3L546.4 545.7L545.9 546.1L545.3 546.5L544.8 546.9L544.2 547.2L543.7 547.6L543.1 548.0L542.6 548.3L542.0 548.7L541.5 549.1L540.9 549.4L540.4 549.8L539.8 550.2L539.3 550.5L538.7 550.9L538.2 551.2L537.6 551.6L537.1 552.0L536.5 552.3L535.9 552.6L535.4 553.0L534.8 553.3L534.2 553.7L533.7 554.0L533.1 554.3L532.5 554.7L531.9 555.0L531.3 555.3L530.7 555.6Z" fill="#0080FF"/>
<path d="M216.0 824.9L216.3 823.0L216.5 821.1L216.8 819.3L217.0 817.4L218.0 816.7L218.9 816.0L219.8 815.3L220.7 814.6L221.7 813.9L222.6 813.2L223.5 812.5L224.4 811.8L225.4 811.1L226.3 810.4L227.3 809.7L228.2 809.1L229.2 808.5L230.2 807.8L231.1 807.2L232.1 806.6L233.1 806.0L234.0 805.3L235.0 804.7L236.0 804.1L236.9 803.5L237.9 802.8L238.8 802.2L239.8 801.6L240.7 801.0L241.6 800.4L242.6 799.7L243.5 799.1L244.5 798.4L245.4 797.8L246.4 797.1L247.4 796.4L248.3 795.8L248.2 795.9L248.3 796.0L248.7 796.1L249.3 794.5L249.9 792.9L250.6 791.3L251.6 789.2L252.6 787.1L253.9 784.7L255.2 782.1L256.6 779.5L258.2 778.3L260.0 776.9L262.1 775.5L263.2 774.9L264.2 774.3L265.2 773.7L266.2 773.1L267.3 772.5L268.3 771.9L269.3 771.3L270.3 770.7L271.3 770.1L272.4 769.5L273.4 768.9L274.4 768.3L275.4 767.7L276.5 767.1L277.5 766.5L278.5 765.9L279.5 765.3L280.6 764.7L281.6 764.1L282.6 763.5L283.6 762.9L284.6 762.3L285.7 761.7L286.7 761.1L287.7 760.5L288.6 760.1L289.4 759.7L290.2 759.3L291.0 758.6L291.9 757.8L292.8 757.1L293.8 756.2L294.8 755.2L295.9 754.3L297.0 753.4L297.9 752.5L298.9 751.7L299.8 750.8L300.8 749.8L301.8 748.7L302.8 747.6L303.9 746.4L304.9 745.2L306.0 744.1L307.1 742.8L308.2 741.6L309.3 740.3L310.4 739.3L311.6 738.2L312.7 737.2L313.7 736.2L314.8 735.3L315.8 734.3L316.9 733.3L318.0 732.4L319.1 731.3L320.2 730.3L321.4 729.2L322.5 728.4L323.7 727.6L324.8 726.8L325.9 726.1L326.9 725.4L327.9 724.7L328.9 724.0L330.0 723.3L331.0 722.6L332.0 721.9L333.0 721.2L334.1 720.5L335.1 719.8L336.1 719.1L337.1 718.4L338.0 717.7L339.0 716.9L340.0 716.2L341.1 715.4L342.1 714.6L343.1 713.8L344.2 713.1L345.2 712.3L346.2 711.5L346.9 711.0L347.8 710.4L348.6 709.9L349.5 708.3L350.4 706.8L351.4 705.2L352.5 703.3L353.7 701.4L354.9 699.4L356.1 698.6L357.4 697.7L358.8 696.7L359.8 696.1L360.9 695.5L361.9 694.8L362.9 694.2L363.9 693.6L365.0 692.9L366.0 692.3L367.0 691.7L368.0 691.0L369.1 690.4L370.1 689.7L371.1 689.1L372.1 688.5L373.2 687.8L374.2 687.2L375.2 686.6L376.2 685.9L377.3 685.3L378.3 684.6L379.3 684.0L380.3 683.4L381.4 682.7L382.4 682.1L383.4 681.5L384.5 680.9L385.6 680.3L386.6 679.7L387.7 679.2L388.7 678.6L389.8 678.0L390.8 677.4L391.9 676.8L392.9 676.2L394.0 675.6L395.0 675.1L396.1 674.5L397.1 673.9L398.2 673.3L399.1 672.8L400.2 672.4L401.3 671.9L402.5 670.5L403.6 669.1L404.8 667.7L406.0 666.2L406.0 666.2L405.2 667.9L404.4 669.6L403.5 671.4L402.7 673.1L401.8 674.0L400.9 674.9L399.8 675.7L398.9 676.5L397.9 677.2L397.0 677.9L396.0 678.7L395.1 679.4L394.1 680.2L393.2 680.9L392.2 681.7L391.3 682.4L390.3 683.2L389.4 683.9L388.4 684.7L387.5 685.4L386.6 686.2L385.6 686.9L384.6 687.6L383.7 688.3L382.7 689.0L381.7 689.7L380.7 690.4L379.8 691.2L378.8 691.9L377.8 692.6L376.8 693.3L375.9 694.0L374.9 694.7L373.9 695.4L372.9 696.1L372.0 696.8L371.0 697.5L370.0 698.2L369.0 699.0L368.1 699.7L367.1 700.4L366.1 701.1L365.1 701.8L364.2 702.5L363.2 703.2L362.6 703.7L361.9 704.1L361.1 704.6L360.3 706.1L359.5 707.7L358.6 709.3L357.6 711.2L356.5 713.2L355.4 715.1L354.2 716.2L353.1 717.3L351.8 718.4L350.8 719.2L349.8 720.1L348.9 720.9L347.9 721.8L346.9 722.6L346.0 723.5L345.0 724.3L344.0 725.2L342.9 726.1L341.9 726.9L340.9 727.7L339.9 728.4L339.0 729.2L338.0 730.0L337.0 730.8L336.0 731.5L335.1 732.3L334.1 733.1L333.1 733.9L332.1 734.6L331.2 735.4L330.3 736.1L329.5 736.7L328.6 737.4L327.8 738.4L326.9 739.4L326.0 740.3L325.1 741.4L324.2 742.5L323.2 743.5L322.3 744.6L321.3 745.7L320.4 746.7L319.6 747.7L318.7 748.7L317.8 749.9L316.9 751.1L316.0 752.3L315.1 753.6L314.1 754.8L313.2 756.1L312.2 757.4L311.2 758.8L310.2 760.2L309.1 761.3L308.1 762.4L307.0 763.6L306.1 764.6L305.2 765.7L304.2 766.7L303.2 767.8L302.1 769.0L301.0 770.2L299.8 771.3L298.6 772.2L297.4 773.1L296.3 773.9L295.3 774.6L294.3 775.3L293.4 776.0L292.4 776.6L291.4 777.3L290.4 778.0L289.4 778.6L288.5 779.3L287.5 780.0L286.5 780.7L285.5 781.3L284.6 782.0L283.6 782.7L282.6 783.3L281.6 784.0L280.7 784.7L279.7 785.4L278.7 786.0L277.7 786.7L276.7 787.4L275.8 788.0L274.8 788.7L273.8 789.4L272.8 790.1L271.9 790.7L272.0 790.6L271.8 790.5L271.4 790.5L270.8 792.0L270.1 793.6L269.4 795.2L268.4 797.3L267.4 799.4L266.1 801.8L264.7 804.3L263.3 806.9L261.7 808.2L259.8 809.5L257.7 810.9L256.6 811.5L255.6 812.1L254.6 812.6L253.5 813.2L252.5 813.7L251.4 814.3L250.4 814.9L249.3 815.5L248.2 816.0L247.2 816.6L246.1 817.1L245.1 817.6L244.0 818.2L243.0 818.7L242.0 819.2L240.9 819.7L239.9 820.2L238.9 820.7L237.8 821.3L236.8 821.8L235.8 822.3L234.7 822.8L233.7 823.3L232.6 823.8L231.6 824.2L230.5 824.7L229.4 825.1L228.3 825.5L227.3 826.0L226.2 826.4L225.1 826.9L224.0 827.3L223.0 827.7L221.2 827.0L219.5 826.3L217.7 825.6L216.0 824.9Z" fill="#00BFFF"/>
<path d="M214.0 826.2L214.0 822.4L215.1 820.7L216.3 819.1L217.7 817.7L219.0 816.4L220.4 815.1L221.9 813.9L223.3 812.7L224.8 811.6L226.2 810.4L227.7 809.3L229.2 808.2L230.8 807.2L232.3 806.1L233.8 805.1L235.4 804.1L237.0 803.1L238.5 802.2L240.1 801.2L241.7 800.3L243.3 799.4L244.9 798.5L246.6 797.6L248.2 796.7L249.8 795.9L251.5 795.0L253.2 794.2L254.8 793.4L256.5 792.7L258.2 791.9L260.0 791.2L261.7 790.5L263.5 789.9L265.2 789.2L267.0 788.7L268.9 788.1L270.7 787.7L272.7 787.4L274.8 787.3L278.0 789.2L278.0 792.9L276.9 794.7L275.7 796.2L274.3 797.6L273.0 799.0L271.6 800.2L270.1 801.4L268.7 802.6L267.2 803.8L265.8 804.9L264.3 806.0L262.8 807.1L261.2 808.2L259.7 809.2L258.2 810.2L256.6 811.2L255.0 812.2L253.5 813.2L251.9 814.2L250.3 815.1L248.7 816.0L247.1 816.9L245.4 817.8L243.8 818.6L242.2 819.5L240.5 820.3L238.8 821.1L237.2 821.9L235.5 822.7L233.8 823.4L232.0 824.1L230.3 824.8L228.5 825.5L226.8 826.1L225.0 826.7L223.1 827.2L221.3 827.7L219.3 828.0L217.2 828.1Z" fill="#00BFFF"/>
<path d="M245.5 795.6L245.8 791.8L247.3 789.8L248.9 788.0L250.6 786.3L252.3 784.7L254.1 783.2L255.9 781.7L257.7 780.2L259.5 778.8L261.4 777.4L263.2 776.0L265.1 774.7L267.0 773.3L268.9 772.0L270.8 770.7L272.7 769.4L274.6 768.2L276.5 766.9L278.5 765.7L280.4 764.5L282.4 763.3L284.4 762.1L286.4 760.9L288.4 759.8L290.4 758.6L292.4 757.5L294.4 756.4L296.5 755.3L298.5 754.3L300.6 753.2L302.7 752.2L304.8 751.2L306.9 750.3L309.0 749.3L311.2 748.5L313.4 747.6L315.6 746.9L317.9 746.2L320.4 745.8L324.0 747.3L323.7 751.1L322.2 753.1L320.6 754.9L318.9 756.6L317.2 758.2L315.4 759.7L313.6 761.2L311.8 762.6L310.0 764.1L308.1 765.5L306.3 766.9L304.4 768.2L302.5 769.6L300.6 770.9L298.7 772.2L296.8 773.5L294.9 774.7L293.0 776.0L291.0 777.2L289.1 778.4L287.1 779.6L285.1 780.8L283.1 782.0L281.1 783.1L279.1 784.3L277.1 785.4L275.1 786.5L273.0 787.6L271.0 788.6L268.9 789.7L266.8 790.7L264.7 791.7L262.6 792.6L260.5 793.5L258.3 794.4L256.1 795.3L253.9 796.0L251.6 796.7L249.1 797.1Z" fill="#00BFFF"/>
<path d="M301.0 751.2L301.2 748.3L302.3 746.6L303.5 745.1L304.8 743.6L306.1 742.2L307.5 740.9L308.9 739.5L310.3 738.2L311.7 736.9L313.1 735.6L314.6 734.4L316.0 733.1L317.5 731.9L318.9 730.7L320.4 729.5L321.9 728.3L323.4 727.1L324.9 725.9L326.4 724.8L327.9 723.6L329.5 722.5L331.0 721.3L332.5 720.2L334.1 719.1L335.7 718.0L337.2 717.0L338.8 715.9L340.4 714.8L342.0 713.8L343.6 712.8L345.2 711.8L346.9 710.8L348.5 709.8L350.2 708.8L351.9 707.9L353.6 707.0L355.4 706.2L357.2 705.4L359.1 704.8L362.0 705.5L361.8 708.5L360.7 710.1L359.5 711.7L358.2 713.1L356.9 714.5L355.5 715.9L354.1 717.2L352.7 718.5L351.3 719.8L349.9 721.1L348.4 722.4L347.0 723.6L345.5 724.8L344.1 726.1L342.6 727.3L341.1 728.5L339.6 729.7L338.1 730.8L336.6 732.0L335.1 733.1L333.5 734.3L332.0 735.4L330.5 736.5L328.9 737.6L327.3 738.7L325.8 739.8L324.2 740.9L322.6 741.9L321.0 743.0L319.4 744.0L317.8 745.0L316.1 746.0L314.5 747.0L312.8 747.9L311.1 748.8L309.4 749.7L307.6 750.6L305.8 751.3L303.9 751.9Z" fill="#00BFFF"/>
<path d="M348.0 707.9L348.6 705.7L349.8 704.4L351.0 703.2L352.3 702.1L353.6 701.0L355.0 699.9L356.3 698.8L357.6 697.8L359.0 696.7L360.4 695.7L361.7 694.7L363.1 693.7L364.5 692.7L365.9 691.8L367.3 690.8L368.7 689.8L370.1 688.9L371.5 687.9L372.9 687.0L374.3 686.1L375.8 685.1L377.2 684.2L378.6 683.3L380.1 682.4L381.5 681.5L383.0 680.6L384.4 679.8L385.9 678.9L387.4 678.0L388.9 677.2L390.3 676.4L391.8 675.5L393.3 674.7L394.9 673.9L396.4 673.2L397.9 672.4L399.5 671.7L401.1 671.1L402.8 670.5L405.0 670.9L404.4 673.0L403.2 674.3L402.0 675.5L400.7 676.7L399.4 677.8L398.0 678.9L396.7 679.9L395.4 681.0L394.0 682.0L392.6 683.0L391.3 684.0L389.9 685.0L388.5 686.0L387.1 687.0L385.7 688.0L384.3 688.9L382.9 689.9L381.5 690.8L380.1 691.8L378.7 692.7L377.2 693.6L375.8 694.5L374.4 695.4L372.9 696.3L371.5 697.2L370.0 698.1L368.6 699.0L367.1 699.8L365.6 700.7L364.1 701.5L362.7 702.4L361.2 703.2L359.7 704.0L358.1 704.8L356.6 705.6L355.1 706.3L353.5 707.0L351.9 707.7L350.2 708.2Z" fill="#00BFFF"/>
<path d="M430.0 644.5L430.2 643.7L430.7 643.2L431.1 642.8L431.6 642.3L432.1 641.8L432.6 641.4L433.1 641.0L433.6 640.5L434.1 640.1L434.6 639.7L435.1 639.2L435.6 638.8L436.1 638.4L436.6 638.0L437.1 637.6L437.7 637.2L438.2 636.8L438.7 636.4L439.2 636.0L439.8 635.6L440.3 635.2L440.8 634.8L441.3 634.4L441.9 634.0L442.4 633.6L442.9 633.2L443.5 632.8L444.0 632.4L444.6 632.1L445.1 631.7L445.6 631.3L446.2 630.9L446.7 630.6L447.3 630.2L447.9 629.9L448.4 629.5L449.0 629.2L449.6 628.9L450.2 628.6L451.0 628.6L450.8 629.3L450.3 629.8L449.9 630.3L449.4 630.8L448.9 631.2L448.4 631.7L447.9 632.1L447.4 632.6L446.9 633.0L446.4 633.4L445.9 633.8L445.4 634.3L444.9 634.7L444.4 635.1L443.9 635.5L443.3 635.9L442.8 636.3L442.3 636.7L441.8 637.1L441.2 637.5L440.7 637.9L440.2 638.3L439.7 638.7L439.1 639.1L438.6 639.5L438.1 639.9L437.5 640.3L437.0 640.6L436.4 641.0L435.9 641.4L435.4 641.8L434.8 642.1L434.3 642.5L433.7 642.9L433.1 643.2L432.6 643.6L432.0 643.9L431.4 644.2L430.8 644.5Z" fill="#00BFFF"/>
<path d="M218.0 823.7L218.4 822.0L218.7 820.4L219.1 818.7L219.5 817.0L220.4 816.3L221.3 815.5L222.2 814.8L223.1 814.0L224.0 813.3L224.9 812.6L225.8 811.8L226.7 811.1L227.7 810.5L228.6 809.8L229.6 809.2L230.6 808.6L231.6 808.0L232.5 807.3L233.5 806.7L234.5 806.1L235.4 805.5L236.4 804.8L237.4 804.2L238.3 803.6L239.3 803.0L240.2 802.4L241.1 801.7L242.1 801.1L243.0 800.5L243.9 799.8L244.9 799.1L245.9 798.5L246.8 797.8L247.8 797.1L248.8 796.5L248.7 796.6L248.9 796.6L249.4 796.6L250.0 795.0L250.7 793.3L251.4 791.6L252.4 789.5L253.4 787.5L254.6 785.1L255.9 782.6L257.3 780.0L258.8 778.8L260.6 777.5L262.6 776.1L263.6 775.5L264.6 774.9L265.6 774.3L266.7 773.7L267.7 773.1L268.7 772.5L269.7 771.9L270.7 771.3L271.8 770.7L272.8 770.1L273.8 769.5L274.8 768.9L275.8 768.3L276.9 767.7L277.9 767.1L278.9 766.5L279.9 765.9L280.9 765.3L282.0 764.6L283.0 764.0L284.0 763.4L285.0 762.8L286.0 762.2L287.1 761.7L288.1 761.1L289.0 760.6L289.8 760.2L290.6 759.8L291.5 759.1L292.4 758.4L293.3 757.6L294.3 756.7L295.4 755.8L296.4 754.8L297.5 753.9L298.4 753.0L299.4 752.2L300.4 751.3L301.4 750.3L302.4 749.2L303.4 748.1L304.5 746.9L305.5 745.7L306.6 744.5L307.7 743.3L308.8 742.1L309.9 740.9L311.0 739.8L312.1 738.8L313.3 737.8L314.3 736.8L315.4 735.9L316.4 734.9L317.5 733.9L318.6 733.0L319.7 731.9L320.8 730.9L322.0 729.8L323.1 729.1L324.3 728.3L325.4 727.6L326.5 726.9L327.5 726.3L328.6 725.6L329.6 724.9L330.7 724.3L331.7 723.6L332.8 722.9L333.8 722.3L334.9 721.6L335.9 720.9L336.9 720.3L338.0 719.6L339.0 718.9L340.0 718.2L341.1 717.4L342.1 716.7L343.2 716.0L344.2 715.2L345.3 714.5L346.3 713.7L347.4 713.0L348.3 712.4L349.2 711.7L350.2 711.1L351.2 709.5L352.2 707.9L353.2 706.2L354.4 704.5L355.5 702.7L356.7 700.9L357.8 700.2L359.0 699.5L360.2 698.8L361.2 698.2L362.2 697.5L363.2 696.8L364.2 696.1L365.2 695.5L366.2 694.8L367.2 694.1L368.2 693.4L369.2 692.7L370.2 692.1L371.2 691.4L372.2 690.7L373.2 690.0L374.2 689.3L375.2 688.7L376.2 688.0L377.2 687.3L378.2 686.6L379.2 685.9L380.2 685.3L381.2 684.6L382.2 683.9L383.1 683.2L384.2 682.6L385.3 682.1L386.3 681.5L387.4 680.9L388.4 680.3L389.5 679.8L390.6 679.2L391.6 678.6L392.7 678.1L393.8 677.6L394.9 677.0L396.0 676.5L396.0 676.5L395.1 677.3L394.2 678.1L393.3 678.9L392.4 679.7L391.4 680.5L390.5 681.2L389.6 682.0L388.6 682.8L387.7 683.5L386.7 684.3L385.8 685.0L384.9 685.8L383.8 686.4L382.8 687.1L381.8 687.8L380.8 688.4L379.8 689.1L378.8 689.8L377.8 690.4L376.8 691.1L375.8 691.8L374.8 692.4L373.8 693.1L372.8 693.8L371.8 694.4L370.8 695.1L369.8 695.8L368.8 696.4L367.8 697.1L366.8 697.8L365.8 698.4L364.8 699.1L363.8 699.8L362.8 700.4L361.8 701.2L361.0 701.8L360.2 702.5L359.3 703.1L358.5 704.8L357.6 706.5L356.8 708.3L355.8 710.1L354.8 712.0L353.8 713.9L352.8 714.9L351.7 715.9L350.6 716.9L349.7 717.8L348.7 718.7L347.8 719.6L346.8 720.4L345.9 721.3L344.9 722.2L344.0 723.1L343.0 724.0L342.0 724.9L341.1 725.7L340.1 726.5L339.1 727.3L338.2 728.1L337.2 728.9L336.3 729.7L335.3 730.6L334.4 731.4L333.4 732.2L332.5 733.0L331.5 733.8L330.6 734.6L329.7 735.3L328.9 736.0L328.0 736.8L327.2 737.8L326.3 738.7L325.4 739.7L324.5 740.8L323.6 741.9L322.6 743.0L321.7 744.0L320.7 745.1L319.9 746.1L319.0 747.1L318.1 748.1L317.2 749.4L316.3 750.6L315.4 751.8L314.5 753.1L313.5 754.3L312.6 755.6L311.6 757.0L310.6 758.3L309.6 759.7L308.6 760.8L307.6 761.9L306.5 763.0L305.6 764.1L304.6 765.1L303.7 766.2L302.7 767.3L301.6 768.5L300.5 769.7L299.4 770.8L298.2 771.6L297.0 772.5L295.9 773.3L294.9 774.0L294.0 774.7L293.0 775.4L292.0 776.0L291.0 776.7L290.0 777.4L289.1 778.0L288.1 778.7L287.1 779.4L286.1 780.0L285.1 780.7L284.2 781.4L283.2 782.0L282.2 782.7L281.2 783.4L280.2 784.0L279.3 784.7L278.3 785.4L277.3 786.0L276.3 786.7L275.3 787.4L274.4 788.0L273.4 788.7L272.4 789.4L271.4 790.0L271.4 790.0L271.2 789.9L270.7 790.0L270.1 791.5L269.4 793.2L268.6 794.9L267.6 797.0L266.6 799.0L265.3 801.4L264.0 803.9L262.6 806.4L261.1 807.6L259.3 808.9L257.2 810.2L256.2 810.8L255.2 811.3L254.1 811.9L253.1 812.5L252.1 813.0L251.0 813.6L249.9 814.2L248.9 814.8L247.8 815.3L246.7 815.8L245.7 816.4L244.6 816.9L243.6 817.4L242.6 817.9L241.5 818.5L240.5 819.0L239.5 819.5L238.4 820.0L237.4 820.5L236.4 821.0L235.4 821.6L234.3 822.1L233.3 822.6L232.2 823.0L231.1 823.4L230.0 823.8L228.9 824.2L227.8 824.6L226.7 825.0L225.6 825.4L224.5 825.8L222.9 825.3L221.3 824.8L219.6 824.2L218.0 823.7Z" fill="#00FFFF"/>
<path d="M216.0 825.0L216.0 821.6L217.1 820.0L218.3 818.6L219.6 817.3L220.8 816.1L222.2 814.9L223.5 813.8L224.9 812.7L226.3 811.6L227.7 810.6L229.1 809.5L230.5 808.5L231.9 807.5L233.3 806.6L234.8 805.6L236.3 804.7L237.7 803.7L239.2 802.8L240.7 801.9L242.2 801.1L243.7 800.2L245.2 799.4L246.7 798.5L248.3 797.7L249.8 796.9L251.3 796.2L252.9 795.4L254.5 794.6L256.1 793.9L257.7 793.2L259.3 792.5L260.9 791.9L262.5 791.2L264.2 790.6L265.8 790.1L267.6 789.6L269.3 789.1L271.1 788.8L273.0 788.7L276.0 790.3L276.0 793.7L274.9 795.3L273.7 796.7L272.4 798.0L271.2 799.3L269.8 800.4L268.5 801.6L267.1 802.7L265.7 803.8L264.3 804.8L262.9 805.8L261.5 806.8L260.1 807.8L258.7 808.8L257.2 809.8L255.7 810.7L254.3 811.6L252.8 812.5L251.3 813.4L249.8 814.3L248.3 815.2L246.8 816.0L245.3 816.8L243.7 817.6L242.2 818.4L240.7 819.2L239.1 820.0L237.5 820.7L235.9 821.4L234.3 822.1L232.7 822.8L231.1 823.5L229.5 824.1L227.8 824.7L226.2 825.3L224.4 825.8L222.7 826.2L220.9 826.6L219.0 826.7Z" fill="#00FFFF"/>
<path d="M247.0 794.7L247.4 791.1L248.8 789.2L250.3 787.5L252.0 786.0L253.6 784.5L255.3 783.0L257.0 781.6L258.8 780.2L260.5 778.8L262.3 777.5L264.1 776.2L265.8 774.9L267.7 773.6L269.5 772.4L271.3 771.1L273.1 769.9L275.0 768.7L276.8 767.5L278.7 766.3L280.5 765.2L282.4 764.0L284.3 762.9L286.2 761.8L288.1 760.7L290.0 759.6L292.0 758.5L293.9 757.5L295.8 756.4L297.8 755.4L299.8 754.4L301.8 753.4L303.8 752.5L305.8 751.6L307.8 750.7L309.9 749.8L312.0 749.0L314.1 748.3L316.3 747.6L318.6 747.2L322.0 748.5L321.6 752.1L320.2 754.0L318.7 755.7L317.0 757.2L315.4 758.7L313.7 760.2L312.0 761.6L310.2 763.0L308.5 764.3L306.7 765.7L304.9 767.0L303.2 768.3L301.3 769.6L299.5 770.8L297.7 772.1L295.9 773.3L294.0 774.5L292.2 775.7L290.3 776.9L288.5 778.0L286.6 779.2L284.7 780.3L282.8 781.4L280.9 782.5L279.0 783.6L277.0 784.7L275.1 785.7L273.2 786.8L271.2 787.8L269.2 788.8L267.2 789.8L265.2 790.7L263.2 791.6L261.2 792.5L259.1 793.4L257.0 794.2L254.9 794.9L252.7 795.6L250.4 796.0Z" fill="#00FFFF"/>
<path d="M302.0 750.5L302.3 747.9L303.4 746.3L304.6 744.9L305.8 743.5L307.1 742.2L308.4 741.0L309.8 739.7L311.1 738.5L312.5 737.2L313.8 736.0L315.2 734.9L316.6 733.7L318.0 732.5L319.4 731.4L320.8 730.2L322.2 729.1L323.6 728.0L325.1 726.9L326.5 725.8L327.9 724.7L329.4 723.6L330.9 722.5L332.3 721.5L333.8 720.4L335.3 719.4L336.8 718.3L338.3 717.3L339.8 716.3L341.3 715.3L342.8 714.3L344.4 713.3L345.9 712.4L347.5 711.4L349.0 710.5L350.6 709.6L352.2 708.7L353.9 707.9L355.6 707.2L357.4 706.5L360.0 707.0L359.7 709.6L358.6 711.2L357.4 712.6L356.2 714.0L354.9 715.3L353.6 716.5L352.2 717.8L350.9 719.0L349.5 720.3L348.2 721.5L346.8 722.6L345.4 723.8L344.0 725.0L342.6 726.1L341.2 727.3L339.8 728.4L338.4 729.5L336.9 730.6L335.5 731.7L334.1 732.8L332.6 733.9L331.1 735.0L329.7 736.0L328.2 737.1L326.7 738.1L325.2 739.2L323.7 740.2L322.2 741.2L320.7 742.2L319.2 743.2L317.6 744.2L316.1 745.1L314.5 746.1L313.0 747.0L311.4 747.9L309.8 748.8L308.1 749.6L306.4 750.3L304.6 751.0Z" fill="#00FFFF"/>
<path d="M360.0 700.1L360.4 698.8L361.2 698.0L362.0 697.2L362.8 696.5L363.6 695.8L364.5 695.1L365.3 694.5L366.2 693.8L367.0 693.2L367.9 692.5L368.8 691.9L369.6 691.3L370.5 690.6L371.4 690.0L372.3 689.4L373.1 688.8L374.0 688.2L374.9 687.6L375.8 687.0L376.7 686.4L377.6 685.9L378.5 685.3L379.4 684.7L380.3 684.1L381.3 683.6L382.2 683.0L383.1 682.5L384.0 681.9L385.0 681.4L385.9 680.8L386.8 680.3L387.8 679.8L388.7 679.3L389.7 678.8L390.6 678.3L391.6 677.8L392.6 677.3L393.6 676.9L394.6 676.5L396.0 676.7L395.6 678.0L394.8 678.8L394.0 679.6L393.2 680.3L392.4 681.0L391.5 681.7L390.7 682.3L389.8 683.0L389.0 683.6L388.1 684.3L387.2 684.9L386.4 685.5L385.5 686.2L384.6 686.8L383.7 687.4L382.9 688.0L382.0 688.6L381.1 689.2L380.2 689.8L379.3 690.4L378.4 690.9L377.5 691.5L376.6 692.1L375.7 692.7L374.7 693.2L373.8 693.8L372.9 694.3L372.0 694.9L371.0 695.4L370.1 696.0L369.2 696.5L368.2 697.0L367.3 697.5L366.3 698.0L365.4 698.5L364.4 699.0L363.4 699.5L362.4 699.9L361.4 700.3Z" fill="#00FFFF"/>
<path d="M220.0 822.6L220.5 821.1L220.9 819.6L221.4 818.1L221.9 816.6L222.8 815.8L223.6 815.0L224.5 814.2L225.4 813.4L226.2 812.6L227.1 811.8L228.1 811.1L229.0 810.5L230.0 809.9L231.0 809.3L231.9 808.6L232.9 808.0L233.9 807.4L234.9 806.8L235.8 806.1L236.8 805.5L237.8 804.9L238.7 804.3L239.7 803.7L240.6 803.1L241.6 802.4L242.5 801.8L243.4 801.2L244.4 800.5L245.3 799.8L246.3 799.2L247.3 798.5L248.2 797.8L249.2 797.2L249.3 797.2L249.6 797.2L250.1 797.1L250.7 795.4L251.4 793.8L252.2 792.0L253.1 789.9L254.1 787.9L255.4 785.5L256.6 783.0L258.0 780.5L259.4 779.4L261.1 778.1L263.0 776.8L264.0 776.2L265.1 775.6L266.1 775.0L267.1 774.4L268.1 773.8L269.1 773.2L270.2 772.6L271.2 772.0L272.2 771.4L273.2 770.8L274.2 770.2L275.2 769.6L276.3 768.9L277.3 768.3L278.3 767.7L279.3 767.1L280.3 766.5L281.4 765.9L282.4 765.3L283.4 764.7L284.4 764.1L285.4 763.5L286.4 762.9L287.5 762.3L288.5 761.7L289.4 761.3L290.3 760.8L291.1 760.4L292.0 759.7L292.9 758.9L293.8 758.1L294.8 757.2L295.9 756.3L297.0 755.4L298.0 754.4L299.0 753.6L300.0 752.7L301.0 751.9L302.0 750.8L303.0 749.7L304.0 748.5L305.0 747.4L306.1 746.2L307.2 745.0L308.3 743.8L309.4 742.6L310.5 741.4L311.6 740.3L312.7 739.3L313.8 738.3L314.9 737.4L315.9 736.4L317.0 735.4L318.0 734.5L319.1 733.5L320.2 732.5L321.3 731.4L322.5 730.4L323.6 729.7L324.8 729.0L325.9 728.2L326.9 727.6L328.0 726.9L329.1 726.2L330.1 725.6L331.2 724.9L332.2 724.2L333.3 723.6L334.3 722.9L335.4 722.2L336.4 721.6L337.4 720.9L338.5 720.3L339.5 719.6L340.6 718.8L341.6 718.1L342.7 717.4L343.7 716.6L344.8 715.9L345.9 715.2L347.0 714.5L348.1 713.8L349.1 713.2L350.1 712.6L351.2 711.9L352.3 710.3L353.5 708.7L354.8 707.1L356.0 705.5L356.0 705.5L355.2 707.4L354.5 709.3L353.7 711.2L352.8 713.1L351.9 714.1L350.9 715.1L349.9 716.1L349.0 717.0L348.1 717.9L347.2 718.8L346.3 719.8L345.3 720.7L344.4 721.5L343.4 722.4L342.5 723.3L341.5 724.2L340.6 725.0L339.6 725.9L338.6 726.7L337.7 727.5L336.7 728.3L335.8 729.1L334.8 729.9L333.9 730.7L332.9 731.5L332.0 732.3L331.1 733.1L330.1 734.0L329.2 734.7L328.4 735.4L327.5 736.2L326.7 737.2L325.8 738.2L324.9 739.2L324.0 740.3L323.0 741.4L322.1 742.4L321.1 743.5L320.2 744.6L319.3 745.6L318.4 746.6L317.5 747.6L316.6 748.9L315.7 750.1L314.8 751.3L313.9 752.6L313.0 753.8L312.0 755.1L311.0 756.5L310.0 757.8L309.0 759.1L308.0 760.3L307.0 761.4L306.0 762.5L305.0 763.5L304.1 764.6L303.2 765.6L302.2 766.7L301.1 767.9L300.0 769.1L298.9 770.2L297.7 771.0L296.6 771.9L295.5 772.7L294.5 773.4L293.6 774.1L292.6 774.7L291.6 775.4L290.6 776.1L289.6 776.7L288.6 777.4L287.7 778.1L286.7 778.7L285.7 779.4L284.7 780.0L283.7 780.7L282.8 781.4L281.8 782.0L280.8 782.7L279.8 783.4L278.8 784.0L277.8 784.7L276.9 785.4L275.9 786.0L274.9 786.7L273.9 787.4L272.9 788.0L272.0 788.7L271.0 789.3L270.9 789.3L270.6 789.4L270.0 789.5L269.4 791.1L268.6 792.8L267.9 794.5L266.9 796.6L265.8 798.6L264.6 801.0L263.3 803.4L261.9 805.9L260.4 807.1L258.7 808.3L256.8 809.5L255.8 810.1L254.7 810.6L253.7 811.2L252.7 811.8L251.6 812.3L250.6 812.9L249.5 813.5L248.4 814.1L247.4 814.6L246.3 815.1L245.3 815.7L244.2 816.2L243.2 816.7L242.2 817.2L241.1 817.8L240.1 818.3L239.1 818.8L238.1 819.3L237.0 819.8L236.0 820.4L235.0 820.9L233.9 821.4L232.9 821.9L231.8 822.3L230.6 822.6L229.5 822.9L228.4 823.3L227.2 823.6L226.1 824.0L224.6 823.6L223.1 823.3L221.5 822.9L220.0 822.6Z" fill="#00FFBF"/>
<path d="M217.5 824.2L217.6 821.1L218.6 819.6L219.8 818.3L221.0 817.1L222.2 816.0L223.5 814.9L224.7 813.8L226.0 812.8L227.3 811.8L228.6 810.8L230.0 809.9L231.3 808.9L232.7 808.0L234.0 807.1L235.4 806.2L236.8 805.3L238.1 804.4L239.5 803.6L240.9 802.8L242.3 801.9L243.8 801.1L245.2 800.3L246.6 799.5L248.1 798.8L249.5 798.0L251.0 797.3L252.4 796.6L253.9 795.9L255.4 795.2L256.9 794.5L258.4 793.8L259.9 793.2L261.5 792.6L263.0 792.0L264.6 791.5L266.2 791.0L267.8 790.6L269.5 790.2L271.3 790.1L274.0 791.5L273.9 794.6L272.9 796.0L271.7 797.3L270.5 798.5L269.3 799.7L268.0 800.8L266.8 801.8L265.5 802.8L264.2 803.8L262.9 804.8L261.5 805.8L260.2 806.7L258.8 807.7L257.5 808.6L256.1 809.5L254.7 810.3L253.4 811.2L252.0 812.1L250.6 812.9L249.2 813.7L247.7 814.5L246.3 815.3L244.9 816.1L243.4 816.9L242.0 817.6L240.5 818.4L239.1 819.1L237.6 819.8L236.1 820.5L234.6 821.2L233.1 821.8L231.6 822.4L230.0 823.0L228.5 823.6L226.9 824.2L225.3 824.7L223.7 825.1L222.0 825.4L220.2 825.6Z" fill="#00FFBF"/>
<path d="M248.0 794.1L248.4 790.8L249.8 789.0L251.3 787.5L252.8 786.0L254.4 784.6L256.0 783.2L257.6 781.9L259.3 780.6L260.9 779.3L262.6 778.1L264.3 776.8L266.0 775.6L267.7 774.4L269.4 773.2L271.2 772.1L272.9 770.9L274.6 769.8L276.4 768.6L278.2 767.5L279.9 766.4L281.7 765.3L283.5 764.3L285.3 763.2L287.1 762.2L288.9 761.1L290.7 760.1L292.6 759.1L294.4 758.1L296.3 757.1L298.1 756.2L300.0 755.3L301.9 754.4L303.8 753.5L305.7 752.6L307.6 751.8L309.6 751.0L311.6 750.3L313.7 749.7L315.9 749.2L319.0 750.3L318.6 753.6L317.2 755.4L315.7 757.0L314.2 758.4L312.6 759.8L311.0 761.2L309.4 762.5L307.7 763.8L306.1 765.1L304.4 766.4L302.7 767.6L301.0 768.8L299.3 770.0L297.6 771.2L295.8 772.4L294.1 773.5L292.4 774.7L290.6 775.8L288.8 776.9L287.1 778.0L285.3 779.1L283.5 780.2L281.7 781.2L279.9 782.3L278.1 783.3L276.3 784.3L274.4 785.3L272.6 786.3L270.7 787.3L268.9 788.2L267.0 789.2L265.1 790.1L263.2 791.0L261.3 791.8L259.4 792.6L257.4 793.4L255.4 794.1L253.3 794.8L251.1 795.2Z" fill="#00FFBF"/>
<path d="M304.0 749.0L304.3 746.8L305.2 745.4L306.3 744.2L307.4 743.1L308.5 742.0L309.6 740.9L310.8 739.8L311.9 738.7L313.1 737.7L314.3 736.6L315.5 735.6L316.6 734.6L317.8 733.6L319.1 732.6L320.3 731.6L321.5 730.7L322.7 729.7L324.0 728.7L325.2 727.8L326.4 726.9L327.7 725.9L329.0 725.0L330.2 724.1L331.5 723.2L332.8 722.3L334.1 721.4L335.3 720.5L336.6 719.6L338.0 718.7L339.3 717.9L340.6 717.1L341.9 716.2L343.3 715.4L344.6 714.6L346.0 713.8L347.4 713.1L348.8 712.4L350.2 711.7L351.8 711.1L354.0 711.5L353.7 713.7L352.8 715.1L351.7 716.3L350.6 717.4L349.5 718.5L348.4 719.6L347.2 720.7L346.1 721.8L344.9 722.8L343.7 723.9L342.5 724.9L341.4 725.9L340.2 726.9L338.9 727.9L337.7 728.9L336.5 729.8L335.3 730.8L334.0 731.8L332.8 732.7L331.6 733.6L330.3 734.6L329.0 735.5L327.8 736.4L326.5 737.3L325.2 738.2L323.9 739.1L322.7 740.0L321.4 740.9L320.0 741.8L318.7 742.6L317.4 743.4L316.1 744.3L314.7 745.1L313.4 745.9L312.0 746.7L310.6 747.4L309.2 748.1L307.8 748.8L306.2 749.4Z" fill="#00FFBF"/>
<path d="M222.0 821.4L222.5 820.0L223.0 818.6L223.6 817.2L224.1 815.8L224.9 814.9L225.7 814.0L226.6 813.2L227.4 812.3L228.4 811.7L229.3 811.0L230.3 810.4L231.3 809.8L232.3 809.2L233.2 808.6L234.2 808.0L235.2 807.3L236.2 806.7L237.1 806.1L238.1 805.5L239.1 804.9L240.0 804.3L241.0 803.7L241.9 803.1L242.9 802.4L243.8 801.8L244.8 801.1L245.7 800.5L246.7 799.8L247.7 799.2L248.7 798.5L249.6 797.9L249.8 797.8L250.2 797.7L250.7 797.6L251.4 795.9L252.1 794.2L252.9 792.4L253.9 790.3L254.9 788.2L256.1 785.9L257.3 783.5L258.6 781.0L260.1 779.9L261.6 778.7L263.5 777.5L264.5 776.9L265.5 776.3L266.5 775.7L267.5 775.1L268.5 774.5L269.5 773.9L270.6 773.2L271.6 772.6L272.6 772.0L273.6 771.4L274.6 770.8L275.6 770.2L276.7 769.6L277.7 769.0L278.7 768.3L279.7 767.7L280.7 767.1L281.7 766.5L282.7 765.9L283.8 765.3L284.8 764.7L285.8 764.1L286.8 763.4L287.9 762.9L288.9 762.3L289.8 761.8L290.7 761.4L291.5 760.9L292.4 760.2L293.4 759.4L294.3 758.6L295.3 757.7L296.4 756.8L297.4 755.9L298.5 754.9L299.5 754.1L300.5 753.2L301.5 752.3L302.5 751.2L303.5 750.1L304.5 749.0L305.6 747.8L306.6 746.6L307.7 745.5L308.8 744.2L309.9 743.0L311.0 741.8L312.1 740.8L313.2 739.8L314.3 738.8L315.4 737.8L316.4 736.9L317.5 735.9L318.5 734.9L319.6 734.0L320.7 733.0L321.8 731.9L322.9 731.0L324.1 730.3L325.2 729.6L326.4 728.9L327.4 728.2L328.5 727.6L329.6 726.9L330.6 726.3L331.7 725.7L332.8 725.0L333.8 724.4L334.9 723.7L336.0 723.1L337.0 722.4L338.1 721.8L339.2 721.2L340.3 720.6L341.4 719.9L342.6 719.3L343.7 718.7L344.9 718.0L346.0 717.4L346.0 717.4L345.1 718.4L344.3 719.4L343.4 720.4L342.6 721.3L341.7 722.3L340.8 723.3L339.9 724.2L339.0 725.0L338.0 725.8L337.1 726.7L336.2 727.5L335.2 728.3L334.3 729.2L333.4 730.0L332.4 730.8L331.5 731.7L330.6 732.5L329.6 733.3L328.8 734.1L327.9 734.9L327.1 735.6L326.2 736.7L325.3 737.7L324.4 738.7L323.5 739.8L322.5 740.9L321.6 742.0L320.6 743.0L319.7 744.1L318.8 745.1L317.9 746.2L317.0 747.2L316.1 748.4L315.2 749.6L314.3 750.9L313.4 752.1L312.4 753.4L311.5 754.7L310.5 756.0L309.5 757.4L308.5 758.7L307.5 759.8L306.5 760.9L305.5 762.0L304.6 763.1L303.6 764.1L302.7 765.2L301.7 766.2L300.6 767.4L299.6 768.6L298.5 769.6L297.3 770.5L296.2 771.3L295.1 772.1L294.1 772.8L293.2 773.5L292.2 774.2L291.2 774.8L290.2 775.5L289.3 776.1L288.3 776.8L287.3 777.4L286.3 778.1L285.3 778.8L284.3 779.4L283.3 780.1L282.4 780.7L281.4 781.4L280.4 782.1L279.4 782.7L278.4 783.4L277.4 784.0L276.5 784.7L275.5 785.4L274.5 786.0L273.5 786.7L272.5 787.3L271.5 788.0L270.5 788.7L270.4 788.7L269.9 788.8L269.4 789.0L268.7 790.6L267.9 792.4L267.1 794.1L266.1 796.2L265.1 798.3L263.9 800.6L262.6 803.0L261.3 805.4L259.8 806.5L258.2 807.7L256.4 808.8L255.3 809.4L254.3 810.0L253.3 810.5L252.3 811.1L251.2 811.7L250.2 812.3L249.1 812.9L248.1 813.4L247.0 814.0L246.0 814.5L244.9 815.1L243.9 815.6L242.9 816.1L241.8 816.7L240.8 817.2L239.8 817.7L238.8 818.2L237.7 818.8L236.7 819.3L235.7 819.8L234.7 820.4L233.6 820.9L232.6 821.4L231.4 821.7L230.3 821.9L229.1 822.2L227.9 822.5L226.4 822.2L225.0 821.9L223.5 821.7L222.0 821.4Z" fill="#00FF80"/>
<path d="M218.5 823.6L218.6 820.7L219.6 819.4L220.7 818.1L221.8 817.0L223.0 815.9L224.2 814.9L225.4 813.9L226.6 813.0L227.9 812.0L229.1 811.1L230.4 810.2L231.7 809.3L232.9 808.4L234.2 807.6L235.5 806.7L236.8 805.9L238.1 805.1L239.5 804.3L240.8 803.5L242.1 802.7L243.5 801.9L244.8 801.2L246.2 800.4L247.5 799.7L248.9 799.0L250.3 798.3L251.7 797.6L253.1 796.9L254.5 796.3L255.9 795.6L257.3 795.0L258.7 794.4L260.2 793.8L261.7 793.3L263.1 792.8L264.6 792.3L266.2 791.9L267.8 791.5L269.5 791.4L272.0 792.7L271.9 795.5L270.9 796.9L269.8 798.1L268.7 799.2L267.5 800.3L266.3 801.3L265.1 802.3L263.9 803.3L262.6 804.2L261.4 805.1L260.1 806.0L258.8 806.9L257.6 807.8L256.3 808.7L255.0 809.5L253.7 810.3L252.4 811.2L251.0 812.0L249.7 812.8L248.4 813.5L247.0 814.3L245.7 815.1L244.3 815.8L243.0 816.5L241.6 817.2L240.2 817.9L238.8 818.6L237.4 819.3L236.0 820.0L234.6 820.6L233.2 821.2L231.8 821.8L230.3 822.4L228.8 822.9L227.4 823.5L225.9 823.9L224.3 824.4L222.7 824.7L221.0 824.9Z" fill="#00FF80"/>
<path d="M249.0 793.5L249.4 790.4L250.7 788.8L252.1 787.4L253.5 786.0L255.0 784.7L256.5 783.4L258.0 782.2L259.5 781.0L261.1 779.8L262.6 778.6L264.2 777.5L265.8 776.4L267.4 775.3L269.0 774.2L270.6 773.1L272.2 772.0L273.8 770.9L275.4 769.9L277.1 768.9L278.7 767.8L280.4 766.8L282.0 765.8L283.7 764.8L285.4 763.9L287.1 762.9L288.8 762.0L290.5 761.0L292.2 760.1L293.9 759.2L295.6 758.3L297.4 757.5L299.1 756.6L300.9 755.8L302.7 755.0L304.5 754.2L306.3 753.5L308.2 752.8L310.1 752.2L312.1 751.8L315.0 752.8L314.6 755.8L313.3 757.5L311.9 758.9L310.5 760.3L309.0 761.6L307.5 762.8L306.0 764.1L304.5 765.3L302.9 766.5L301.4 767.6L299.8 768.8L298.2 769.9L296.6 771.0L295.0 772.1L293.4 773.2L291.8 774.3L290.2 775.3L288.6 776.4L286.9 777.4L285.3 778.4L283.6 779.5L282.0 780.4L280.3 781.4L278.6 782.4L276.9 783.4L275.2 784.3L273.5 785.2L271.8 786.2L270.1 787.1L268.4 788.0L266.6 788.8L264.9 789.7L263.1 790.5L261.3 791.3L259.5 792.1L257.7 792.8L255.8 793.5L253.9 794.1L251.9 794.5Z" fill="#00FF80"/>
<path d="M304.0 749.0L304.3 747.1L305.1 745.9L306.1 744.9L307.0 743.9L308.0 742.9L309.0 741.9L310.0 741.0L311.0 740.1L312.1 739.2L313.1 738.2L314.2 737.4L315.2 736.5L316.3 735.6L317.3 734.7L318.4 733.9L319.5 733.0L320.6 732.1L321.7 731.3L322.8 730.5L323.9 729.6L325.0 728.8L326.1 728.0L327.2 727.2L328.3 726.4L329.4 725.6L330.5 724.8L331.7 724.0L332.8 723.3L334.0 722.5L335.1 721.7L336.3 721.0L337.4 720.3L338.6 719.5L339.8 718.8L341.0 718.1L342.2 717.5L343.5 716.8L344.7 716.2L346.1 715.7L348.0 716.0L347.7 717.9L346.9 719.1L345.9 720.1L345.0 721.1L344.0 722.1L343.0 723.1L342.0 724.0L341.0 724.9L339.9 725.8L338.9 726.8L337.8 727.6L336.8 728.5L335.7 729.4L334.7 730.3L333.6 731.1L332.5 732.0L331.4 732.9L330.3 733.7L329.2 734.5L328.1 735.4L327.0 736.2L325.9 737.0L324.8 737.8L323.7 738.6L322.6 739.4L321.5 740.2L320.3 741.0L319.2 741.7L318.0 742.5L316.9 743.3L315.7 744.0L314.6 744.7L313.4 745.5L312.2 746.2L311.0 746.9L309.8 747.5L308.5 748.2L307.3 748.8L305.9 749.3Z" fill="#00FF80"/>
<path d="M219.5 823.0L219.7 820.4L220.6 819.1L221.6 817.9L222.7 816.9L223.8 815.9L224.9 814.9L226.1 814.0L227.2 813.1L228.4 812.2L229.6 811.3L230.8 810.4L232.0 809.6L233.2 808.8L234.4 808.0L235.6 807.2L236.9 806.4L238.1 805.6L239.3 804.9L240.6 804.1L241.8 803.4L243.1 802.7L244.4 801.9L245.7 801.2L247.0 800.6L248.2 799.9L249.5 799.2L250.9 798.6L252.2 797.9L253.5 797.3L254.8 796.7L256.2 796.1L257.5 795.5L258.9 795.0L260.3 794.5L261.7 794.0L263.1 793.5L264.5 793.1L266.0 792.8L267.6 792.6L270.0 793.8L269.8 796.4L268.9 797.7L267.9 798.9L266.8 799.9L265.7 800.9L264.6 801.9L263.4 802.8L262.3 803.7L261.1 804.6L259.9 805.5L258.7 806.4L257.5 807.2L256.3 808.0L255.1 808.8L253.9 809.6L252.6 810.4L251.4 811.2L250.2 811.9L248.9 812.7L247.7 813.4L246.4 814.1L245.1 814.9L243.8 815.6L242.5 816.2L241.3 816.9L240.0 817.6L238.6 818.2L237.3 818.9L236.0 819.5L234.7 820.1L233.3 820.7L232.0 821.3L230.6 821.8L229.2 822.3L227.8 822.8L226.4 823.3L225.0 823.7L223.5 824.0L221.9 824.2Z" fill="#00FF40"/>
<path d="M250.0 792.8L250.4 790.1L251.6 788.6L252.8 787.2L254.2 786.0L255.5 784.8L256.9 783.6L258.3 782.5L259.7 781.3L261.2 780.2L262.6 779.2L264.1 778.1L265.5 777.1L267.0 776.0L268.5 775.0L270.0 774.0L271.4 773.0L272.9 772.0L274.5 771.1L276.0 770.1L277.5 769.2L279.0 768.2L280.6 767.3L282.1 766.4L283.6 765.5L285.2 764.6L286.8 763.7L288.3 762.9L289.9 762.0L291.5 761.2L293.1 760.4L294.7 759.6L296.3 758.8L298.0 758.0L299.6 757.3L301.3 756.6L303.0 755.9L304.7 755.3L306.5 754.7L308.3 754.4L311.0 755.3L310.6 758.1L309.4 759.6L308.2 760.9L306.8 762.2L305.5 763.4L304.1 764.5L302.7 765.7L301.3 766.8L299.8 767.9L298.4 769.0L296.9 770.0L295.5 771.1L294.0 772.1L292.5 773.1L291.0 774.1L289.6 775.1L288.1 776.1L286.5 777.0L285.0 778.0L283.5 778.9L282.0 779.9L280.4 780.8L278.9 781.7L277.4 782.6L275.8 783.5L274.2 784.4L272.7 785.2L271.1 786.1L269.5 786.9L267.9 787.7L266.3 788.5L264.7 789.3L263.0 790.1L261.4 790.8L259.7 791.5L258.0 792.2L256.3 792.8L254.5 793.4L252.7 793.8Z" fill="#00FF40"/>
<path d="M307.0 746.8L307.3 745.2L308.0 744.2L308.8 743.3L309.6 742.5L310.4 741.7L311.3 740.9L312.1 740.1L313.0 739.3L313.9 738.5L314.7 737.8L315.6 737.0L316.5 736.3L317.4 735.6L318.3 734.8L319.2 734.1L320.1 733.4L321.0 732.7L321.9 732.0L322.8 731.3L323.8 730.6L324.7 729.9L325.6 729.2L326.6 728.5L327.5 727.8L328.4 727.2L329.4 726.5L330.3 725.8L331.3 725.2L332.3 724.5L333.2 723.9L334.2 723.3L335.2 722.7L336.2 722.0L337.2 721.4L338.2 720.9L339.2 720.3L340.2 719.8L341.3 719.2L342.4 718.8L344.0 719.0L343.7 720.6L343.0 721.5L342.2 722.4L341.4 723.3L340.6 724.1L339.7 724.9L338.9 725.7L338.0 726.4L337.1 727.2L336.3 728.0L335.4 728.7L334.5 729.5L333.6 730.2L332.7 730.9L331.8 731.6L330.9 732.4L330.0 733.1L329.1 733.8L328.2 734.5L327.2 735.2L326.3 735.9L325.4 736.6L324.4 737.2L323.5 737.9L322.6 738.6L321.6 739.3L320.7 739.9L319.7 740.6L318.7 741.2L317.8 741.8L316.8 742.5L315.8 743.1L314.8 743.7L313.8 744.3L312.8 744.9L311.8 745.5L310.8 746.0L309.7 746.5L308.6 746.9Z" fill="#00FF40"/>
<path d="M220.0 822.7L220.2 820.3L221.1 819.0L222.1 818.0L223.1 817.0L224.1 816.0L225.2 815.1L226.3 814.2L227.4 813.4L228.5 812.5L229.7 811.7L230.8 810.9L231.9 810.1L233.1 809.3L234.2 808.6L235.4 807.8L236.6 807.1L237.8 806.3L238.9 805.6L240.1 804.9L241.3 804.2L242.5 803.5L243.7 802.9L245.0 802.2L246.2 801.5L247.4 800.9L248.6 800.3L249.9 799.6L251.1 799.0L252.4 798.4L253.7 797.9L254.9 797.3L256.2 796.7L257.5 796.2L258.8 795.7L260.1 795.2L261.5 794.8L262.9 794.4L264.3 794.1L265.8 793.9L268.0 795.0L267.8 797.4L266.9 798.6L265.9 799.7L264.9 800.7L263.9 801.6L262.8 802.5L261.7 803.4L260.6 804.3L259.5 805.1L258.3 805.9L257.2 806.8L256.1 807.5L254.9 808.3L253.8 809.1L252.6 809.9L251.4 810.6L250.2 811.3L249.1 812.0L247.9 812.8L246.7 813.5L245.5 814.1L244.3 814.8L243.0 815.5L241.8 816.1L240.6 816.8L239.4 817.4L238.1 818.0L236.9 818.6L235.6 819.2L234.3 819.8L233.1 820.4L231.8 820.9L230.5 821.5L229.2 822.0L227.9 822.4L226.5 822.9L225.1 823.3L223.7 823.6L222.2 823.8Z" fill="#00FF00"/>
<path d="M251.0 792.2L251.4 789.7L252.5 788.3L253.7 787.1L255.0 785.9L256.2 784.8L257.5 783.7L258.9 782.7L260.2 781.6L261.5 780.6L262.9 779.6L264.2 778.6L265.6 777.6L267.0 776.7L268.4 775.7L269.7 774.8L271.1 773.9L272.5 773.0L274.0 772.1L275.4 771.2L276.8 770.3L278.2 769.4L279.7 768.5L281.1 767.7L282.5 766.8L284.0 766.0L285.5 765.2L286.9 764.4L288.4 763.6L289.9 762.8L291.4 762.0L292.9 761.3L294.4 760.5L295.9 759.8L297.4 759.1L299.0 758.5L300.6 757.8L302.2 757.2L303.8 756.7L305.5 756.3L308.0 757.1L307.6 759.7L306.5 761.0L305.3 762.3L304.0 763.4L302.8 764.6L301.5 765.6L300.1 766.7L298.8 767.7L297.5 768.8L296.1 769.8L294.8 770.7L293.4 771.7L292.0 772.7L290.6 773.6L289.3 774.6L287.9 775.5L286.5 776.4L285.0 777.3L283.6 778.2L282.2 779.1L280.8 779.9L279.3 780.8L277.9 781.7L276.5 782.5L275.0 783.3L273.5 784.2L272.1 785.0L270.6 785.8L269.1 786.5L267.6 787.3L266.1 788.1L264.6 788.8L263.1 789.5L261.6 790.2L260.0 790.9L258.4 791.5L256.8 792.1L255.2 792.6L253.5 793.0Z" fill="#00FF00"/>
<path d="M310.0 744.5L310.2 743.3L310.8 742.5L311.5 741.8L312.2 741.1L312.8 740.5L313.5 739.8L314.2 739.2L314.9 738.6L315.6 737.9L316.3 737.3L317.1 736.7L317.8 736.1L318.5 735.5L319.2 734.9L320.0 734.3L320.7 733.8L321.4 733.2L322.2 732.6L322.9 732.0L323.7 731.5L324.4 730.9L325.2 730.4L325.9 729.8L326.7 729.3L327.5 728.7L328.2 728.2L329.0 727.6L329.8 727.1L330.6 726.6L331.3 726.1L332.1 725.6L332.9 725.1L333.7 724.6L334.5 724.1L335.3 723.6L336.2 723.1L337.0 722.7L337.8 722.3L338.7 721.9L340.0 722.0L339.8 723.2L339.2 724.0L338.5 724.7L337.8 725.4L337.2 726.0L336.5 726.7L335.8 727.3L335.1 727.9L334.4 728.6L333.7 729.2L332.9 729.8L332.2 730.4L331.5 731.0L330.8 731.6L330.0 732.2L329.3 732.7L328.6 733.3L327.8 733.9L327.1 734.5L326.3 735.0L325.6 735.6L324.8 736.1L324.1 736.7L323.3 737.2L322.5 737.8L321.8 738.3L321.0 738.9L320.2 739.4L319.4 739.9L318.7 740.4L317.9 740.9L317.1 741.4L316.3 741.9L315.5 742.4L314.7 742.9L313.8 743.4L313.0 743.8L312.2 744.2L311.3 744.6Z" fill="#00FF00"/>
<path d="M221.0 822.1L221.4 820.6L222.2 819.6L223.0 818.6L223.8 817.8L224.7 816.9L225.5 816.1L226.4 815.4L227.3 814.6L228.2 813.8L229.1 813.1L230.1 812.4L231.0 811.7L231.9 811.0L232.9 810.4L233.8 809.7L234.8 809.1L235.8 808.5L236.8 807.8L237.7 807.3L238.7 806.7L239.7 806.1L240.8 805.5L241.8 805.0L242.8 804.5L243.8 803.9L244.9 803.4L245.9 802.9L247.0 802.5L248.1 802.0L249.1 801.6L250.2 801.1L251.3 800.7L252.4 800.3L253.5 799.9L254.7 799.6L255.8 799.3L257.0 799.0L258.2 798.8L259.4 798.6L261.0 799.0L260.6 800.6L259.8 801.6L259.0 802.5L258.2 803.4L257.3 804.2L256.5 805.0L255.6 805.8L254.7 806.5L253.8 807.3L252.9 808.0L251.9 808.7L251.0 809.4L250.1 810.1L249.1 810.8L248.2 811.4L247.2 812.1L246.2 812.7L245.2 813.3L244.3 813.9L243.3 814.5L242.3 815.0L241.2 815.6L240.2 816.1L239.2 816.7L238.2 817.2L237.1 817.7L236.1 818.2L235.0 818.7L233.9 819.1L232.9 819.6L231.8 820.0L230.7 820.4L229.6 820.8L228.5 821.2L227.3 821.5L226.2 821.9L225.0 822.1L223.8 822.4L222.6 822.5Z" fill="#55FF00"/>
<path d="M255.0 789.8L255.7 788.2L256.7 787.0L257.7 785.9L258.8 784.9L259.9 783.9L261.0 783.0L262.1 782.0L263.2 781.1L264.3 780.2L265.5 779.3L266.6 778.5L267.8 777.6L269.0 776.8L270.1 775.9L271.3 775.1L272.5 774.3L273.7 773.5L274.9 772.7L276.1 771.9L277.3 771.2L278.6 770.4L279.8 769.7L281.1 769.0L282.3 768.3L283.6 767.6L284.8 766.9L286.1 766.2L287.4 765.5L288.7 764.9L290.0 764.2L291.3 763.6L292.6 763.0L293.9 762.4L295.3 761.9L296.6 761.3L298.0 760.8L299.4 760.3L300.8 759.8L302.2 759.5L304.0 759.6L303.3 761.2L302.3 762.4L301.3 763.4L300.2 764.4L299.1 765.4L298.0 766.4L296.9 767.3L295.8 768.2L294.7 769.1L293.5 770.0L292.4 770.9L291.2 771.7L290.0 772.6L288.9 773.4L287.7 774.2L286.5 775.1L285.3 775.8L284.1 776.6L282.9 777.4L281.7 778.2L280.4 778.9L279.2 779.7L277.9 780.4L276.7 781.1L275.4 781.8L274.2 782.5L272.9 783.2L271.6 783.8L270.3 784.5L269.0 785.1L267.7 785.7L266.4 786.3L265.1 786.9L263.7 787.5L262.4 788.1L261.0 788.6L259.6 789.1L258.2 789.5L256.8 789.9Z" fill="#55FF00"/>
<path d="M222.0 821.6L222.4 820.2L223.1 819.3L223.9 818.5L224.6 817.7L225.4 816.9L226.2 816.2L227.0 815.5L227.9 814.8L228.7 814.2L229.5 813.5L230.4 812.9L231.2 812.2L232.1 811.6L233.0 811.0L233.8 810.4L234.7 809.9L235.6 809.3L236.5 808.7L237.4 808.2L238.3 807.7L239.2 807.1L240.2 806.6L241.1 806.1L242.0 805.6L243.0 805.2L243.9 804.7L244.9 804.2L245.8 803.8L246.8 803.4L247.8 803.0L248.8 802.6L249.8 802.2L250.8 801.8L251.8 801.5L252.8 801.1L253.8 800.8L254.9 800.5L256.0 800.3L257.1 800.2L258.5 800.5L258.1 801.8L257.4 802.7L256.6 803.5L255.9 804.3L255.1 805.1L254.3 805.8L253.5 806.5L252.6 807.2L251.8 807.8L251.0 808.5L250.1 809.1L249.3 809.8L248.4 810.4L247.5 811.0L246.7 811.6L245.8 812.1L244.9 812.7L244.0 813.3L243.1 813.8L242.2 814.3L241.3 814.9L240.3 815.4L239.4 815.9L238.5 816.4L237.5 816.8L236.6 817.3L235.6 817.8L234.7 818.2L233.7 818.6L232.7 819.0L231.7 819.4L230.7 819.8L229.7 820.2L228.7 820.6L227.7 820.9L226.7 821.2L225.6 821.5L224.5 821.7L223.4 821.8Z" fill="#AAFF00"/>
<path d="M257.0 788.5L257.7 787.2L258.6 786.2L259.5 785.2L260.5 784.4L261.5 783.5L262.5 782.7L263.5 781.8L264.5 781.0L265.5 780.2L266.6 779.5L267.6 778.7L268.7 777.9L269.7 777.2L270.8 776.4L271.9 775.7L272.9 775.0L274.0 774.3L275.1 773.6L276.2 772.9L277.3 772.2L278.4 771.5L279.5 770.9L280.6 770.2L281.7 769.6L282.9 768.9L284.0 768.3L285.1 767.7L286.3 767.1L287.4 766.5L288.6 765.9L289.7 765.3L290.9 764.8L292.1 764.2L293.3 763.7L294.5 763.2L295.7 762.7L296.9 762.2L298.2 761.8L299.5 761.4L301.0 761.4L300.3 762.8L299.4 763.8L298.5 764.7L297.5 765.6L296.5 766.5L295.5 767.3L294.5 768.1L293.5 768.9L292.5 769.7L291.4 770.5L290.4 771.3L289.3 772.0L288.3 772.8L287.2 773.5L286.1 774.3L285.1 775.0L284.0 775.7L282.9 776.4L281.8 777.1L280.7 777.8L279.6 778.4L278.5 779.1L277.4 779.8L276.3 780.4L275.1 781.0L274.0 781.7L272.9 782.3L271.7 782.9L270.6 783.5L269.4 784.1L268.3 784.6L267.1 785.2L265.9 785.7L264.7 786.3L263.5 786.8L262.3 787.3L261.1 787.8L259.8 788.2L258.5 788.5Z" fill="#AAFF00"/>
<path d="M223.0 821.0L223.4 819.8L224.1 819.0L224.7 818.3L225.4 817.6L226.1 816.9L226.9 816.3L227.6 815.6L228.4 815.0L229.1 814.4L229.9 813.8L230.6 813.3L231.4 812.7L232.2 812.1L233.0 811.6L233.8 811.1L234.6 810.6L235.4 810.0L236.2 809.5L237.0 809.1L237.8 808.6L238.7 808.1L239.5 807.6L240.3 807.2L241.2 806.7L242.0 806.3L242.9 805.9L243.8 805.5L244.6 805.1L245.5 804.7L246.4 804.3L247.3 803.9L248.2 803.6L249.1 803.2L250.0 802.9L250.9 802.6L251.8 802.3L252.8 802.0L253.8 801.8L254.8 801.7L256.0 801.9L255.6 803.1L254.9 803.9L254.3 804.6L253.6 805.3L252.9 806.0L252.1 806.6L251.4 807.2L250.6 807.9L249.9 808.5L249.1 809.0L248.4 809.6L247.6 810.2L246.8 810.7L246.0 811.3L245.2 811.8L244.4 812.3L243.6 812.8L242.8 813.3L242.0 813.8L241.2 814.3L240.3 814.8L239.5 815.2L238.7 815.7L237.8 816.1L237.0 816.6L236.1 817.0L235.2 817.4L234.4 817.8L233.5 818.2L232.6 818.6L231.7 818.9L230.8 819.3L229.9 819.6L229.0 820.0L228.1 820.3L227.2 820.6L226.2 820.8L225.2 821.1L224.2 821.2Z" fill="#FFFF00"/>
<path d="M259.0 787.3L259.6 786.2L260.5 785.3L261.3 784.5L262.2 783.8L263.1 783.0L264.0 782.3L264.9 781.6L265.8 780.9L266.7 780.2L267.6 779.5L268.6 778.8L269.5 778.2L270.5 777.5L271.4 776.9L272.3 776.2L273.3 775.6L274.3 775.0L275.2 774.3L276.2 773.7L277.2 773.1L278.1 772.5L279.1 771.9L280.1 771.4L281.1 770.8L282.1 770.2L283.1 769.7L284.1 769.1L285.1 768.6L286.1 768.0L287.1 767.5L288.2 767.0L289.2 766.5L290.2 766.0L291.3 765.5L292.3 765.0L293.4 764.5L294.5 764.1L295.6 763.7L296.7 763.3L298.0 763.3L297.4 764.4L296.5 765.3L295.7 766.1L294.8 766.8L293.9 767.6L293.0 768.3L292.1 769.0L291.2 769.7L290.3 770.4L289.4 771.1L288.4 771.7L287.5 772.4L286.5 773.1L285.6 773.7L284.7 774.4L283.7 775.0L282.7 775.6L281.8 776.2L280.8 776.9L279.8 777.5L278.9 778.1L277.9 778.6L276.9 779.2L275.9 779.8L274.9 780.4L273.9 780.9L272.9 781.5L271.9 782.0L270.9 782.6L269.9 783.1L268.8 783.6L267.8 784.1L266.8 784.6L265.7 785.1L264.7 785.6L263.6 786.0L262.5 786.5L261.4 786.9L260.3 787.2Z" fill="#FFFF00"/>
<path d="M224.0 820.4L224.4 819.4L225.0 818.7L225.6 818.1L226.2 817.5L226.8 816.9L227.5 816.4L228.1 815.8L228.8 815.3L229.5 814.8L230.1 814.3L230.8 813.8L231.5 813.3L232.2 812.8L232.9 812.4L233.6 811.9L234.3 811.4L235.0 811.0L235.7 810.6L236.4 810.1L237.2 809.7L237.9 809.3L238.6 808.9L239.4 808.5L240.1 808.1L240.8 807.7L241.6 807.3L242.4 807.0L243.1 806.6L243.9 806.3L244.6 805.9L245.4 805.6L246.2 805.3L247.0 805.0L247.8 804.7L248.6 804.4L249.4 804.1L250.2 803.9L251.1 803.6L251.9 803.5L253.0 803.6L252.6 804.6L252.0 805.3L251.4 805.9L250.8 806.5L250.2 807.1L249.5 807.6L248.9 808.2L248.2 808.7L247.5 809.2L246.9 809.7L246.2 810.2L245.5 810.7L244.8 811.2L244.1 811.7L243.4 812.1L242.7 812.6L242.0 813.0L241.3 813.5L240.6 813.9L239.8 814.3L239.1 814.7L238.4 815.1L237.6 815.5L236.9 815.9L236.2 816.3L235.4 816.7L234.6 817.1L233.9 817.4L233.1 817.8L232.4 818.1L231.6 818.4L230.8 818.8L230.0 819.1L229.2 819.4L228.4 819.7L227.6 819.9L226.8 820.2L225.9 820.4L225.1 820.5Z" fill="#FFBF00"/>
<path d="M263.0 784.8L263.5 784.0L264.1 783.4L264.7 782.9L265.3 782.3L266.0 781.8L266.6 781.3L267.3 780.8L267.9 780.3L268.6 779.8L269.3 779.3L269.9 778.8L270.6 778.4L271.3 777.9L272.0 777.4L272.6 777.0L273.3 776.5L274.0 776.1L274.7 775.6L275.4 775.2L276.1 774.7L276.8 774.3L277.5 773.9L278.2 773.5L278.9 773.1L279.6 772.7L280.4 772.3L281.1 771.9L281.8 771.5L282.5 771.1L283.3 770.7L284.0 770.3L284.7 769.9L285.5 769.6L286.2 769.2L287.0 768.9L287.7 768.5L288.5 768.2L289.3 767.9L290.1 767.7L291.0 767.6L290.5 768.4L289.9 769.0L289.3 769.5L288.7 770.1L288.0 770.6L287.4 771.1L286.7 771.6L286.1 772.1L285.4 772.6L284.7 773.1L284.1 773.6L283.4 774.1L282.7 774.5L282.0 775.0L281.4 775.5L280.7 775.9L280.0 776.4L279.3 776.8L278.6 777.2L277.9 777.7L277.2 778.1L276.5 778.5L275.8 779.0L275.1 779.4L274.4 779.8L273.6 780.2L272.9 780.6L272.2 781.0L271.5 781.4L270.7 781.7L270.0 782.1L269.3 782.5L268.5 782.8L267.8 783.2L267.0 783.5L266.3 783.9L265.5 784.2L264.7 784.5L263.9 784.8Z" fill="#FFBF00"/>
<path d="M225.0 819.8L225.4 819.0L225.9 818.4L226.4 817.9L226.9 817.4L227.5 816.9L228.1 816.5L228.6 816.0L229.2 815.6L229.8 815.1L230.4 814.7L231.0 814.3L231.6 813.9L232.2 813.4L232.8 813.0L233.4 812.6L234.0 812.3L234.6 811.9L235.2 811.5L235.8 811.1L236.4 810.8L237.1 810.4L237.7 810.1L238.3 809.7L239.0 809.4L239.6 809.0L240.3 808.7L240.9 808.4L241.6 808.1L242.2 807.8L242.9 807.5L243.5 807.2L244.2 806.9L244.9 806.6L245.6 806.3L246.3 806.1L246.9 805.9L247.6 805.6L248.4 805.4L249.1 805.3L250.0 805.4L249.6 806.2L249.1 806.8L248.6 807.3L248.1 807.8L247.5 808.3L246.9 808.7L246.4 809.2L245.8 809.6L245.2 810.1L244.6 810.5L244.0 810.9L243.4 811.3L242.8 811.7L242.2 812.1L241.6 812.5L241.0 812.9L240.4 813.3L239.8 813.7L239.2 814.1L238.6 814.4L237.9 814.8L237.3 815.1L236.7 815.5L236.0 815.8L235.4 816.2L234.7 816.5L234.1 816.8L233.4 817.1L232.8 817.4L232.1 817.7L231.5 818.0L230.8 818.3L230.1 818.6L229.4 818.8L228.7 819.1L228.1 819.3L227.4 819.6L226.6 819.8L225.9 819.9Z" fill="#FF8000"/>
<path d="M267.0 782.4L267.3 781.9L267.7 781.5L268.1 781.1L268.5 780.8L268.9 780.5L269.3 780.1L269.8 779.8L270.2 779.5L270.6 779.2L271.0 778.9L271.5 778.5L271.9 778.2L272.3 777.9L272.8 777.6L273.2 777.3L273.7 777.1L274.1 776.8L274.5 776.5L275.0 776.2L275.4 775.9L275.9 775.6L276.3 775.4L276.8 775.1L277.3 774.8L277.7 774.6L278.2 774.3L278.6 774.1L279.1 773.8L279.6 773.6L280.0 773.3L280.5 773.1L281.0 772.8L281.5 772.6L281.9 772.4L282.4 772.1L282.9 771.9L283.4 771.7L283.9 771.5L284.4 771.3L285.0 771.3L284.7 771.8L284.3 772.2L283.9 772.5L283.5 772.9L283.1 773.2L282.7 773.5L282.2 773.9L281.8 774.2L281.4 774.5L281.0 774.8L280.5 775.1L280.1 775.4L279.7 775.7L279.2 776.0L278.8 776.3L278.3 776.6L277.9 776.9L277.5 777.2L277.0 777.5L276.6 777.7L276.1 778.0L275.7 778.3L275.2 778.6L274.7 778.8L274.3 779.1L273.8 779.3L273.4 779.6L272.9 779.9L272.4 780.1L272.0 780.4L271.5 780.6L271.0 780.8L270.5 781.1L270.1 781.3L269.6 781.5L269.1 781.7L268.6 782.0L268.1 782.1L267.6 782.3Z" fill="#FF8000"/>
<path d="M226.0 819.2L226.3 818.6L226.8 818.1L227.2 817.7L227.7 817.2L228.2 816.8L228.7 816.4L229.2 816.1L229.7 815.7L230.2 815.3L230.7 814.9L231.2 814.6L231.7 814.2L232.2 813.9L232.7 813.5L233.3 813.2L233.8 812.9L234.3 812.5L234.9 812.2L235.4 811.9L235.9 811.6L236.5 811.3L237.0 811.0L237.5 810.7L238.1 810.4L238.6 810.1L239.2 809.8L239.8 809.5L240.3 809.3L240.9 809.0L241.4 808.7L242.0 808.5L242.6 808.2L243.2 808.0L243.7 807.7L244.3 807.5L244.9 807.3L245.5 807.1L246.1 806.9L246.8 806.8L247.5 806.8L247.2 807.5L246.7 808.0L246.3 808.4L245.8 808.8L245.3 809.2L244.8 809.6L244.3 810.0L243.8 810.4L243.3 810.7L242.8 811.1L242.3 811.5L241.8 811.8L241.3 812.2L240.8 812.5L240.2 812.8L239.7 813.2L239.2 813.5L238.6 813.8L238.1 814.1L237.6 814.5L237.0 814.8L236.5 815.1L236.0 815.4L235.4 815.7L234.9 816.0L234.3 816.2L233.7 816.5L233.2 816.8L232.6 817.1L232.1 817.3L231.5 817.6L230.9 817.8L230.3 818.1L229.8 818.3L229.2 818.5L228.6 818.7L228.0 819.0L227.4 819.1L226.7 819.3Z" fill="#FF4000"/>
<path d="M227.0 818.7L227.3 818.1L227.7 817.8L228.1 817.4L228.5 817.0L229.0 816.7L229.4 816.4L229.8 816.1L230.3 815.8L230.7 815.4L231.1 815.1L231.6 814.8L232.0 814.5L232.5 814.2L232.9 813.9L233.4 813.7L233.8 813.4L234.3 813.1L234.7 812.8L235.2 812.5L235.7 812.3L236.1 812.0L236.6 811.8L237.0 811.5L237.5 811.2L238.0 811.0L238.5 810.7L238.9 810.5L239.4 810.3L239.9 810.0L240.4 809.8L240.9 809.6L241.4 809.3L241.8 809.1L242.3 808.9L242.8 808.7L243.3 808.5L243.8 808.3L244.4 808.1L244.9 808.0L245.5 808.0L245.2 808.5L244.8 808.9L244.4 809.2L244.0 809.6L243.5 809.9L243.1 810.2L242.7 810.6L242.2 810.9L241.8 811.2L241.4 811.5L240.9 811.8L240.5 812.1L240.0 812.4L239.6 812.7L239.1 813.0L238.7 813.3L238.2 813.5L237.8 813.8L237.3 814.1L236.8 814.4L236.4 814.6L235.9 814.9L235.5 815.1L235.0 815.4L234.5 815.6L234.0 815.9L233.6 816.1L233.1 816.4L232.6 816.6L232.1 816.8L231.6 817.1L231.1 817.3L230.7 817.5L230.2 817.7L229.7 817.9L229.2 818.1L228.7 818.3L228.1 818.5L227.6 818.6Z" fill="#FF0000"/>
</g>
</g>
<path d="M1353 30H2308.8L2311.2 39V876H1353Z" fill="#0000FF"/>
<g id="rightdata" clip-path="url(#cr)">
<g filter="url(#b2)">
<path d="M1460.0 298.3C1463.1 297.9 1469.3 296.5 1472.7 298.8C1476.1 301.1 1477.9 310.5 1480.2 312.0C1482.5 313.5 1483.2 309.2 1486.5 308.0C1489.8 306.8 1495.6 304.4 1500.0 305.0C1504.4 305.6 1507.8 308.6 1512.8 311.3C1517.8 314.0 1524.0 318.0 1530.3 321.3C1536.6 324.6 1543.7 327.8 1550.4 331.4C1557.1 334.9 1563.7 338.2 1570.4 342.6C1577.1 347.0 1585.6 353.7 1590.5 357.7C1595.4 361.7 1595.9 362.3 1600.0 366.5C1604.1 370.7 1609.3 377.1 1615.0 382.7C1620.7 388.3 1628.8 395.5 1634.4 400.0C1640.1 404.5 1643.3 406.8 1648.9 409.6C1654.5 412.4 1660.9 414.8 1668.1 416.8C1675.3 418.8 1684.2 420.1 1692.2 421.7C1700.2 423.3 1707.8 425.1 1716.2 426.5C1724.6 427.9 1737.1 427.3 1742.7 430.1C1748.3 432.9 1745.9 439.5 1749.9 443.3C1753.9 447.1 1764.2 448.5 1766.8 452.9C1769.4 457.3 1766.8 463.8 1765.6 469.8C1764.4 475.8 1761.8 482.6 1759.6 489.0C1757.4 495.4 1754.7 502.3 1752.3 508.3C1749.9 514.3 1748.3 519.5 1745.1 525.1C1741.9 530.7 1737.1 536.4 1733.1 542.0C1729.1 547.6 1723.9 553.6 1721.1 558.8C1718.3 564.0 1718.6 568.8 1716.2 573.2C1713.8 577.6 1710.6 581.7 1706.6 585.3C1702.6 588.9 1696.6 591.7 1692.2 594.9C1687.8 598.1 1683.8 601.3 1680.2 604.5C1676.6 607.7 1672.9 610.5 1670.5 614.1C1668.1 617.7 1668.1 622.6 1665.7 626.2C1663.3 629.8 1660.4 632.6 1656.1 635.8C1651.8 639.0 1644.0 642.5 1640.0 645.3C1636.0 648.0 1634.7 650.4 1632.0 652.3C1629.3 654.2 1626.6 655.1 1623.6 656.5C1620.6 657.9 1615.9 658.6 1613.8 660.7C1611.7 662.8 1612.2 666.4 1611.0 669.2C1609.8 672.0 1608.4 674.8 1606.7 677.6C1605.0 680.4 1603.0 683.4 1601.1 686.0C1599.2 688.6 1597.8 691.4 1595.5 693.0C1593.2 694.6 1589.9 694.1 1587.1 695.8C1584.3 697.4 1581.5 700.8 1578.7 702.9C1575.9 705.0 1574.0 707.1 1570.2 708.5C1566.5 709.9 1559.9 709.9 1556.2 711.3C1552.5 712.7 1550.2 714.8 1547.8 716.9C1545.4 719.0 1543.5 721.3 1542.1 723.9C1540.7 726.5 1540.9 729.3 1539.3 732.4C1537.7 735.5 1534.9 739.4 1532.3 742.2C1529.7 745.0 1526.7 747.0 1523.9 749.2C1521.1 751.5 1518.1 756.0 1515.6 755.7C1513.1 755.5 1511.6 749.3 1509.1 747.7C1506.5 746.1 1502.6 745.7 1500.3 745.9C1498.0 746.1 1497.8 747.0 1495.3 749.0C1492.8 751.0 1488.0 754.9 1485.2 757.8C1482.4 760.7 1480.4 764.1 1478.3 766.6C1476.2 769.1 1474.6 770.3 1472.7 772.8C1470.8 775.3 1469.2 781.4 1467.1 781.6C1465.0 781.8 1463.0 775.6 1460.2 774.1C1457.4 772.6 1453.2 771.8 1450.1 772.8C1446.9 773.8 1443.0 780.7 1441.3 780.3C1439.6 779.9 1441.1 773.6 1440.1 770.3C1439.1 767.0 1437.2 765.7 1435.1 760.3C1433.0 754.9 1429.8 747.1 1427.6 737.7C1425.4 728.3 1423.4 713.5 1421.9 703.9C1420.4 694.3 1418.5 689.0 1418.8 680.0C1419.1 671.0 1423.2 659.2 1423.5 650.0C1423.8 640.8 1420.4 633.8 1420.5 625.0C1420.6 616.2 1423.9 607.0 1424.0 597.0C1424.1 587.0 1421.0 574.5 1421.0 565.0C1421.0 555.5 1423.1 556.6 1423.8 540.0C1424.5 523.4 1424.0 485.3 1425.0 465.4C1426.0 445.4 1427.9 437.0 1430.0 420.3C1432.1 403.6 1436.1 376.9 1437.6 365.2C1439.1 353.5 1438.9 355.9 1438.8 350.0C1438.7 344.1 1436.2 335.8 1437.0 330.0C1437.8 324.2 1441.1 319.8 1443.9 315.0C1446.7 310.2 1451.2 304.1 1453.9 301.3C1456.6 298.5 1456.9 298.7 1460.0 298.3Z" fill="#0040FF"/>
<path d="M1460.2 379.7C1464.4 378.3 1470.2 377.9 1475.2 378.2C1480.2 378.5 1485.2 380.1 1490.2 381.5C1495.2 382.9 1500.3 384.2 1505.3 386.5C1510.3 388.8 1515.3 392.0 1520.3 395.3C1525.3 398.6 1530.3 402.3 1535.3 406.5C1540.3 410.7 1545.4 415.5 1550.4 420.3C1555.4 425.1 1560.4 430.4 1565.4 435.4C1570.4 440.4 1574.7 445.3 1580.5 450.4C1586.3 455.5 1594.2 460.8 1600.0 466.0C1605.8 471.2 1609.6 478.0 1615.0 481.7C1620.4 485.4 1626.8 486.3 1632.6 488.0C1638.4 489.7 1643.8 490.6 1650.1 491.8C1656.4 493.1 1664.3 493.6 1670.2 495.5C1676.1 497.4 1680.7 500.1 1685.2 503.0C1689.7 505.9 1694.5 509.0 1697.0 513.0C1699.5 517.0 1699.9 523.0 1700.3 527.0C1700.7 531.0 1700.4 532.9 1699.4 537.0C1698.5 541.1 1697.0 546.4 1694.6 551.6C1692.2 556.8 1688.6 562.4 1685.0 568.4C1681.4 574.4 1676.5 581.3 1672.9 587.7C1669.3 594.1 1666.1 600.9 1663.3 606.9C1660.5 612.9 1658.7 619.9 1656.1 623.8C1653.5 627.7 1651.8 627.5 1647.9 630.3C1644.0 633.0 1637.8 636.8 1632.8 640.3C1627.8 643.8 1621.5 648.2 1617.8 651.6C1614.0 655.0 1613.2 657.0 1610.3 660.4C1607.4 663.8 1603.5 668.2 1600.3 672.0C1597.1 675.8 1594.4 679.7 1591.0 683.0C1587.6 686.3 1583.5 689.3 1580.0 692.0C1576.5 694.7 1574.2 696.8 1570.0 699.0C1565.8 701.2 1559.1 703.3 1555.1 705.5C1551.1 707.7 1548.5 709.6 1546.0 712.0C1543.5 714.4 1541.7 717.2 1540.0 720.0C1538.3 722.8 1537.7 725.4 1536.0 729.0C1534.3 732.6 1532.8 738.4 1530.0 741.5C1527.2 744.6 1522.0 746.2 1519.1 747.7C1516.2 749.2 1514.9 750.7 1512.8 750.3C1510.7 749.9 1509.4 745.8 1506.5 745.2C1503.6 744.6 1498.8 745.0 1495.3 746.5C1491.8 748.0 1488.1 751.3 1485.2 754.0C1482.3 756.7 1480.2 760.7 1477.7 762.8C1475.2 764.9 1473.1 766.0 1470.2 766.6C1467.3 767.2 1464.0 766.8 1460.2 766.6C1456.4 766.4 1450.5 765.5 1447.6 765.3C1444.7 765.1 1444.3 766.5 1442.6 765.3C1440.9 764.0 1439.7 762.8 1437.6 757.8C1435.5 752.8 1432.3 744.4 1430.1 735.2C1427.9 726.0 1425.9 713.5 1424.4 702.6C1422.9 691.7 1421.3 678.8 1421.3 670.0C1421.3 661.2 1424.3 657.5 1424.5 650.0C1424.7 642.5 1422.3 633.8 1422.5 625.0C1422.7 616.2 1425.3 607.0 1425.5 597.0C1425.7 587.0 1423.4 574.5 1423.5 565.0C1423.6 555.5 1425.6 556.6 1426.3 540.0C1427.0 523.4 1426.3 483.7 1427.6 465.4C1428.8 447.1 1431.5 440.8 1433.8 430.4C1436.1 420.0 1438.7 410.1 1441.4 402.8C1444.1 395.5 1447.0 390.4 1450.1 386.5C1453.2 382.6 1456.0 381.1 1460.2 379.7Z" fill="#0080FF"/>
<path d="M1460.2 432.9C1464.4 431.4 1470.2 431.2 1475.2 431.6C1480.2 432.0 1485.2 433.5 1490.2 435.4C1495.2 437.3 1500.3 439.8 1505.3 442.9C1510.3 446.0 1515.3 450.0 1520.3 454.2C1525.3 458.4 1530.3 463.1 1535.3 467.9C1540.3 472.7 1545.4 478.4 1550.4 483.0C1555.4 487.6 1560.4 491.8 1565.4 495.5C1570.4 499.2 1574.7 501.9 1580.5 505.5C1586.3 509.1 1593.4 513.5 1600.0 516.8C1606.6 520.0 1614.3 522.6 1620.0 525.0C1625.7 527.4 1630.0 529.1 1634.4 531.1C1638.8 533.1 1643.3 534.2 1646.5 537.2C1649.7 540.2 1651.1 544.4 1653.7 549.2C1656.3 554.0 1661.3 560.8 1662.1 566.0C1662.9 571.2 1660.3 575.3 1658.5 580.5C1656.7 585.7 1653.3 591.3 1651.3 597.3C1649.3 603.3 1649.3 610.6 1646.5 616.6C1643.7 622.6 1638.8 629.0 1634.4 633.4C1630.0 637.8 1624.7 639.1 1620.3 642.8C1615.9 646.4 1611.5 651.4 1607.8 655.3C1604.1 659.2 1601.0 662.5 1598.0 666.0C1595.0 669.5 1592.9 672.7 1589.9 676.0C1586.9 679.3 1583.7 683.2 1580.0 686.0C1576.3 688.8 1572.5 690.5 1568.0 693.0C1563.5 695.5 1557.2 698.2 1553.0 701.0C1548.8 703.8 1545.7 707.0 1543.0 710.0C1540.3 713.0 1538.7 716.2 1537.0 719.0C1535.3 721.8 1534.2 724.3 1533.0 727.0C1531.8 729.7 1532.7 732.6 1530.0 735.2C1527.3 737.8 1519.9 741.2 1516.6 742.7C1513.3 744.2 1512.2 744.1 1510.3 744.0C1508.4 743.9 1507.6 742.2 1505.3 742.1C1503.0 742.0 1499.4 742.2 1496.5 743.4C1493.6 744.5 1490.4 747.0 1487.7 749.0C1485.0 751.0 1482.7 753.7 1480.2 755.3C1477.7 756.9 1476.0 757.8 1472.7 758.4C1469.4 759.0 1464.4 759.1 1460.2 759.0C1456.0 758.9 1451.0 758.6 1447.6 757.8C1444.1 757.0 1442.1 758.2 1439.5 754.0C1436.9 749.8 1434.1 741.5 1431.9 732.7C1429.7 723.9 1427.7 711.8 1426.3 701.3C1424.9 690.8 1423.8 678.5 1423.8 670.0C1423.8 661.5 1425.9 657.5 1426.0 650.0C1426.1 642.5 1424.3 633.8 1424.5 625.0C1424.7 616.2 1426.8 607.0 1427.0 597.0C1427.2 587.0 1425.2 574.5 1425.5 565.0C1425.8 555.5 1427.6 552.4 1428.8 540.0C1430.0 527.6 1430.5 504.6 1432.6 490.5C1434.7 476.4 1438.5 463.8 1441.4 455.4C1444.3 447.0 1447.0 444.1 1450.1 440.4C1453.2 436.6 1456.0 434.4 1460.2 432.9Z" fill="#00BFFF"/>
<path d="M1470.2 469.0C1474.7 468.8 1480.2 470.0 1485.2 471.7C1490.2 473.4 1495.3 476.1 1500.3 479.2C1505.3 482.3 1510.3 485.9 1515.3 490.5C1520.3 495.1 1525.3 501.4 1530.3 506.5C1535.3 511.6 1540.4 516.8 1545.4 521.0C1550.4 525.2 1555.9 529.0 1560.4 532.0C1565.0 535.0 1568.2 536.6 1572.7 538.8C1577.2 541.0 1582.3 543.2 1587.7 545.1C1593.1 547.0 1599.9 548.0 1605.3 550.1C1610.7 552.2 1616.6 555.0 1620.3 557.6C1624.0 560.2 1625.2 562.6 1627.2 566.0C1629.2 569.4 1631.0 573.7 1632.0 578.1C1633.0 582.5 1633.4 587.7 1633.2 592.5C1633.0 597.3 1632.2 602.1 1630.8 606.9C1629.4 611.7 1627.0 617.2 1624.8 621.4C1622.6 625.6 1620.3 628.6 1617.8 632.0C1615.3 635.4 1612.8 638.3 1609.6 642.0C1606.3 645.7 1601.6 650.2 1598.3 654.0C1595.0 657.8 1592.7 661.5 1589.9 665.0C1587.1 668.5 1584.8 671.5 1581.5 675.0C1578.2 678.5 1574.4 682.3 1570.2 686.0C1566.0 689.7 1560.1 693.8 1556.2 697.0C1552.3 700.2 1549.7 702.2 1547.0 705.0C1544.3 707.8 1542.2 711.0 1540.0 714.0C1537.8 717.0 1535.7 720.5 1534.0 723.0C1532.3 725.5 1532.9 726.9 1530.0 728.9C1527.1 730.9 1520.9 733.7 1516.6 735.2C1512.3 736.7 1507.5 736.5 1504.0 737.7C1500.5 739.0 1498.4 740.9 1495.3 742.7C1492.2 744.5 1489.0 746.9 1485.2 748.4C1481.4 749.9 1476.9 750.9 1472.7 751.5C1468.5 752.1 1464.4 752.1 1460.2 752.1C1456.0 752.1 1450.8 752.0 1447.6 751.5C1444.4 751.0 1443.6 752.8 1441.3 749.0C1439.0 745.2 1435.9 737.0 1433.8 728.9C1431.7 720.8 1430.0 709.9 1428.8 700.1C1427.5 690.3 1426.4 678.4 1426.3 670.0C1426.2 661.6 1427.9 657.5 1428.0 650.0C1428.1 642.5 1426.8 633.8 1427.0 625.0C1427.2 616.2 1428.8 607.0 1429.0 597.0C1429.2 587.0 1428.1 574.5 1428.5 565.0C1428.9 555.5 1430.0 548.3 1431.3 540.0C1432.6 531.7 1434.6 521.6 1436.1 515.0C1437.6 508.4 1438.3 505.2 1440.1 500.1C1441.9 495.0 1444.1 488.6 1447.1 484.1C1450.1 479.6 1454.2 475.5 1458.0 473.0C1461.8 470.5 1465.7 469.2 1470.2 469.0Z" fill="#00FFFF"/>
<path d="M1468.1 494.1C1471.6 494.0 1476.3 495.0 1480.0 496.0C1483.7 497.0 1485.2 496.7 1490.2 500.1C1495.2 503.5 1504.1 510.9 1510.3 516.2C1516.5 521.5 1522.2 527.2 1527.6 532.0C1533.0 536.8 1537.6 541.2 1542.6 545.0C1547.6 548.8 1552.6 552.1 1557.6 555.0C1562.6 557.9 1567.3 560.2 1572.7 562.5C1578.1 564.8 1585.0 566.8 1590.2 569.0C1595.4 571.2 1600.3 573.5 1604.0 576.0C1607.7 578.5 1610.6 581.0 1612.5 584.0C1614.4 587.0 1615.0 590.5 1615.2 594.0C1615.4 597.5 1614.7 601.2 1613.9 605.2C1613.1 609.2 1611.9 613.5 1610.2 617.7C1608.5 621.9 1606.4 626.0 1603.9 630.2C1601.4 634.4 1598.0 638.6 1595.1 642.8C1592.2 647.0 1589.2 651.3 1586.4 655.3C1583.6 659.3 1581.2 663.0 1578.0 667.0C1574.8 671.0 1570.7 675.2 1567.0 679.0C1563.3 682.8 1559.2 686.5 1556.0 690.0C1552.8 693.5 1550.4 696.7 1548.0 700.0C1545.6 703.3 1543.6 706.8 1541.4 710.0C1539.2 713.2 1536.9 716.5 1535.0 719.0C1533.1 721.5 1532.0 723.8 1530.0 725.2C1528.0 726.7 1526.2 726.6 1522.9 727.7C1519.6 728.9 1514.9 730.3 1510.3 732.1C1505.7 733.9 1499.5 736.5 1495.3 738.3C1491.1 740.1 1489.0 741.4 1485.2 742.7C1481.4 744.0 1476.9 745.3 1472.7 745.9C1468.5 746.5 1465.2 746.8 1460.2 746.5C1455.2 746.2 1446.7 747.4 1442.6 744.0C1438.5 740.6 1437.7 733.9 1435.7 726.4C1433.7 718.9 1432.0 708.2 1430.7 698.8C1429.5 689.4 1428.4 678.1 1428.2 670.0C1428.0 661.9 1429.4 657.5 1429.5 650.0C1429.6 642.5 1428.8 633.8 1429.0 625.0C1429.2 616.2 1430.2 606.1 1431.0 597.0C1431.8 587.9 1432.9 580.8 1434.1 570.3C1435.3 559.8 1436.8 542.9 1438.1 534.2C1439.4 525.5 1440.1 523.2 1442.1 518.2C1444.1 513.2 1447.3 507.7 1450.1 504.1C1452.9 500.5 1456.0 498.2 1459.0 496.5C1462.0 494.8 1464.6 494.2 1468.1 494.1Z" fill="#00FFBF"/>
<path d="M1468.1 518.2C1471.4 518.2 1476.3 519.0 1480.0 520.0C1483.7 521.0 1485.2 520.8 1490.2 524.2C1495.2 527.6 1504.5 535.4 1510.3 540.2C1516.1 545.0 1520.0 549.1 1525.0 553.0C1530.0 556.9 1534.9 560.4 1540.1 563.5C1545.3 566.6 1550.5 569.0 1556.3 571.5C1562.1 574.0 1569.5 576.3 1575.1 578.8C1580.7 581.3 1586.5 583.5 1590.1 586.4C1593.6 589.3 1595.4 592.5 1596.4 596.0C1597.5 599.5 1596.8 603.7 1596.4 607.7C1596.0 611.7 1595.2 616.2 1593.9 620.2C1592.7 624.2 1591.0 627.5 1588.9 631.5C1586.8 635.5 1583.9 639.9 1581.4 644.0C1578.9 648.1 1576.4 652.0 1574.0 656.0C1571.6 660.0 1569.5 664.0 1567.0 668.0C1564.5 672.0 1561.5 676.3 1559.0 680.0C1556.5 683.7 1554.3 686.5 1552.0 690.0C1549.7 693.5 1547.2 697.7 1545.0 701.0C1542.8 704.3 1540.6 707.3 1538.6 710.0C1536.6 712.7 1534.9 714.9 1533.0 717.0C1531.1 719.1 1529.1 721.5 1527.4 722.5C1525.7 723.5 1525.8 722.3 1522.9 723.3C1520.1 724.3 1514.5 726.6 1510.3 728.3C1506.1 730.0 1502.0 731.6 1497.8 733.3C1493.6 735.0 1489.4 736.9 1485.2 738.3C1481.0 739.7 1476.9 740.9 1472.7 741.5C1468.5 742.1 1465.0 742.4 1460.2 742.1C1455.4 741.8 1447.8 742.6 1443.9 739.6C1440.0 736.6 1439.0 730.9 1437.0 723.9C1435.0 716.9 1433.2 706.6 1431.9 697.6C1430.6 688.6 1429.6 677.9 1429.4 670.0C1429.2 662.1 1430.3 657.5 1430.5 650.0C1430.7 642.5 1430.2 633.3 1430.5 625.0C1430.8 616.7 1431.9 605.8 1432.5 600.0C1433.1 594.2 1433.2 597.2 1434.1 590.3C1435.0 583.3 1436.6 566.6 1438.1 558.3C1439.6 549.9 1440.8 545.6 1443.1 540.2C1445.4 534.9 1449.3 529.6 1452.1 526.2C1454.9 522.8 1457.3 521.3 1460.0 520.0C1462.7 518.7 1464.8 518.2 1468.1 518.2Z" fill="#00FF80"/>
<path d="M1468.1 541.4C1471.4 541.4 1476.3 542.1 1480.0 543.0C1483.7 543.9 1485.2 543.8 1490.2 547.0C1495.2 550.2 1504.5 558.0 1510.3 562.3C1516.1 566.6 1520.0 569.8 1525.0 573.0C1530.0 576.2 1535.4 579.0 1540.0 581.4C1544.6 583.8 1548.3 585.5 1552.5 587.6C1556.7 589.7 1561.7 591.8 1565.1 593.9C1568.5 596.0 1571.1 597.4 1573.0 600.5C1574.9 603.6 1576.1 609.0 1576.3 612.7C1576.5 616.5 1575.0 619.6 1574.0 623.0C1573.0 626.4 1571.4 629.5 1570.1 633.0C1568.8 636.5 1567.3 640.3 1566.0 644.0C1564.7 647.7 1563.3 651.2 1562.0 655.0C1560.7 658.8 1559.5 663.0 1558.0 667.0C1556.5 671.0 1554.7 675.2 1553.0 679.0C1551.3 682.8 1549.8 686.3 1548.0 690.0C1546.2 693.7 1544.0 697.7 1542.0 701.0C1540.0 704.3 1537.8 707.8 1535.8 710.0C1533.8 712.2 1532.2 713.1 1530.0 714.5C1527.8 715.9 1526.2 716.7 1522.9 718.3C1519.6 719.9 1514.5 722.1 1510.3 723.9C1506.1 725.7 1502.0 727.2 1497.8 728.9C1493.6 730.6 1489.4 732.5 1485.2 733.9C1481.0 735.3 1476.9 736.5 1472.7 737.1C1468.5 737.7 1464.8 738.0 1460.2 737.7C1455.6 737.4 1448.8 738.1 1445.1 735.2C1441.4 732.3 1440.2 726.7 1438.2 720.2C1436.2 713.7 1434.5 704.7 1433.2 696.3C1432.0 687.9 1430.9 677.7 1430.7 670.0C1430.5 662.3 1431.6 657.5 1431.8 650.0C1432.0 642.5 1431.5 631.6 1432.0 625.0C1432.5 618.4 1433.9 618.2 1435.1 610.4C1436.3 602.6 1437.6 586.6 1439.1 578.3C1440.6 569.9 1441.8 565.4 1444.1 560.3C1446.4 555.2 1450.4 550.4 1453.1 547.5C1455.8 544.6 1457.5 544.0 1460.0 543.0C1462.5 542.0 1464.8 541.4 1468.1 541.4Z" fill="#00FF40"/>
<path d="M1468.1 555.1C1471.4 555.1 1476.3 556.0 1480.0 557.0C1483.7 558.0 1486.9 559.2 1490.2 561.0C1493.5 562.8 1496.7 565.1 1500.0 568.0C1503.3 570.9 1506.3 574.3 1510.3 578.3C1514.3 582.3 1519.5 588.4 1524.1 592.0C1528.6 595.6 1533.6 597.8 1537.6 600.0C1541.6 602.2 1545.1 603.5 1548.0 605.5C1550.9 607.5 1553.3 609.2 1555.0 612.0C1556.7 614.8 1557.6 618.2 1558.0 622.0C1558.4 625.8 1558.0 630.3 1557.5 635.0C1557.0 639.7 1556.1 645.0 1555.0 650.0C1553.9 655.0 1552.3 660.3 1551.0 665.0C1549.7 669.7 1548.2 673.8 1547.0 678.0C1545.8 682.2 1545.0 686.3 1543.5 690.0C1542.0 693.7 1540.1 696.8 1538.0 700.0C1535.9 703.2 1533.5 706.9 1531.0 709.0C1528.5 711.1 1526.4 711.0 1522.9 712.6C1519.5 714.2 1514.5 717.0 1510.3 718.9C1506.1 720.8 1502.0 722.2 1497.8 723.9C1493.6 725.6 1489.4 727.4 1485.2 728.9C1481.0 730.4 1476.9 732.1 1472.7 732.7C1468.5 733.3 1464.6 733.1 1460.2 732.7C1455.8 732.3 1449.9 732.9 1446.4 730.2C1443.0 727.5 1441.5 722.2 1439.5 716.4C1437.5 710.5 1435.8 702.8 1434.5 695.1C1433.2 687.4 1432.2 677.5 1431.9 670.0C1431.7 662.5 1432.7 655.8 1433.0 650.0C1433.3 644.2 1433.5 638.2 1434.0 635.0C1434.5 631.8 1435.1 637.3 1436.1 630.5C1437.1 623.7 1438.6 603.8 1440.1 594.4C1441.6 585.0 1442.8 579.9 1445.1 574.3C1447.4 568.7 1451.6 563.9 1454.1 561.0C1456.6 558.1 1457.7 558.0 1460.0 557.0C1462.3 556.0 1464.8 555.1 1468.1 555.1Z" fill="#00FF00"/>
<path d="M1465.6 566.4C1469.1 566.5 1472.7 568.1 1476.2 569.8C1479.7 571.5 1483.5 573.6 1486.7 576.5C1490.0 579.4 1492.8 582.8 1495.7 587.0C1498.6 591.2 1501.7 597.5 1504.1 602.0C1506.5 606.5 1508.0 610.0 1510.0 614.0C1512.0 618.0 1512.8 622.2 1516.1 626.2C1519.4 630.2 1525.8 634.9 1530.1 638.2C1534.4 641.5 1539.5 642.9 1542.2 646.2C1544.9 649.5 1546.0 653.9 1546.2 658.2C1546.4 662.6 1545.1 667.6 1543.2 672.3C1541.3 677.0 1537.2 682.8 1535.0 686.3C1532.8 689.8 1532.2 690.6 1530.0 693.0C1527.8 695.4 1525.4 697.5 1522.1 700.4C1518.8 703.3 1514.3 707.5 1510.3 710.5C1506.2 713.5 1502.0 716.1 1497.8 718.3C1493.6 720.5 1489.4 722.4 1485.2 723.9C1481.0 725.4 1476.9 726.5 1472.7 727.1C1468.5 727.7 1464.4 728.0 1460.2 727.7C1456.0 727.4 1450.8 727.7 1447.6 725.2C1444.3 722.7 1442.7 718.0 1440.7 712.6C1438.7 707.2 1437.0 699.7 1435.7 692.6C1434.5 685.5 1433.5 677.1 1433.2 670.0C1432.9 662.9 1433.6 658.5 1434.0 650.2C1434.4 641.9 1434.9 628.6 1435.5 620.2C1436.1 611.8 1436.6 605.7 1437.5 600.0C1438.4 594.3 1439.4 590.2 1441.0 586.0C1442.6 581.8 1444.7 577.8 1447.0 575.0C1449.3 572.2 1452.0 570.4 1455.1 569.0C1458.2 567.6 1462.1 566.3 1465.6 566.4Z" fill="#55FF00"/>
<path d="M1462.6 578.0C1465.9 577.9 1469.9 578.8 1473.2 580.3C1476.5 581.8 1479.5 584.1 1482.2 587.0C1485.0 589.9 1487.5 593.6 1489.7 597.6C1492.0 601.6 1494.0 606.9 1495.7 611.0C1497.5 615.1 1498.5 618.2 1500.2 622.0C1501.9 625.8 1503.8 630.8 1506.1 634.0C1508.4 637.2 1511.0 639.3 1513.8 641.5C1516.6 643.7 1519.9 644.9 1522.8 647.0C1525.7 649.1 1528.9 651.0 1531.1 654.2C1533.3 657.4 1535.9 661.9 1536.1 666.3C1536.3 670.6 1533.8 676.7 1532.1 680.3C1530.4 683.9 1528.0 685.7 1526.0 688.0C1524.0 690.3 1522.7 691.6 1520.1 694.3C1517.5 696.9 1514.0 701.0 1510.3 703.9C1506.6 706.8 1502.0 709.0 1497.8 711.4C1493.6 713.8 1489.4 716.4 1485.2 718.3C1481.0 720.2 1476.9 721.9 1472.7 722.7C1468.5 723.5 1464.2 723.5 1460.2 723.3C1456.2 723.1 1451.9 723.6 1448.9 721.4C1445.9 719.2 1444.0 715.1 1442.0 710.1C1440.0 705.1 1438.2 698.0 1437.0 691.3C1435.8 684.6 1434.8 676.9 1434.5 670.0C1434.2 663.1 1434.9 657.2 1435.3 650.2C1435.7 643.2 1436.2 634.4 1436.8 627.7C1437.3 621.0 1437.8 615.0 1438.6 610.0C1439.4 605.0 1440.3 601.7 1441.5 598.0C1442.7 594.3 1444.0 590.8 1446.0 588.0C1448.0 585.2 1450.8 582.7 1453.6 581.0C1456.4 579.3 1459.3 578.1 1462.6 578.0Z" fill="#AAFF00"/>
<path d="M1461.1 590.0C1464.1 589.9 1467.4 590.8 1470.2 592.3C1473.0 593.8 1475.5 596.2 1477.7 599.1C1480.0 602.0 1482.0 606.1 1483.7 609.6C1485.5 613.1 1486.7 616.7 1488.2 620.2C1489.7 623.7 1491.0 627.2 1492.7 630.7C1494.5 634.2 1496.5 638.2 1498.7 641.2C1501.0 644.2 1503.2 646.5 1506.2 648.7C1509.2 651.0 1513.5 652.2 1516.8 654.7C1520.1 657.2 1523.9 661.0 1525.8 663.8C1527.7 666.6 1528.2 668.5 1528.0 671.3C1527.8 674.0 1525.8 677.8 1524.3 680.3C1522.8 682.8 1522.3 683.6 1519.1 686.5C1515.9 689.4 1509.9 694.3 1505.3 697.6C1500.7 700.9 1495.9 703.7 1491.5 706.4C1487.1 709.1 1483.8 712.0 1479.0 713.9C1474.2 715.8 1467.3 717.2 1462.7 717.6C1458.1 718.0 1454.5 718.3 1451.4 716.4C1448.3 714.5 1446.1 711.0 1443.9 706.4C1441.7 701.8 1439.6 694.9 1438.2 688.8C1436.8 682.7 1436.0 676.4 1435.7 670.0C1435.4 663.6 1436.2 656.5 1436.6 650.2C1437.0 643.9 1437.6 637.7 1438.2 632.2C1438.8 626.7 1439.3 621.5 1440.0 617.1C1440.7 612.7 1441.4 609.2 1442.5 606.0C1443.6 602.8 1444.9 600.2 1446.5 598.0C1448.1 595.8 1449.7 594.3 1452.1 593.0C1454.5 591.7 1458.1 590.1 1461.1 590.0Z" fill="#FFFF00"/>
<path d="M1462.6 601.4C1465.1 601.9 1467.9 603.2 1470.2 605.1C1472.5 607.0 1474.5 609.6 1476.2 612.6C1478.0 615.6 1479.2 619.7 1480.7 623.2C1482.2 626.7 1483.5 630.2 1485.2 633.7C1487.0 637.2 1489.0 641.0 1491.2 644.2C1493.5 647.5 1495.7 650.4 1498.7 653.2C1501.7 656.0 1506.1 657.8 1509.2 660.8C1512.3 663.8 1517.0 668.0 1517.5 671.0C1518.0 674.0 1514.8 676.2 1512.3 678.8C1509.8 681.3 1506.3 683.2 1502.8 686.3C1499.3 689.4 1495.5 694.0 1491.5 697.6C1487.5 701.2 1483.2 705.4 1479.0 707.6C1474.8 709.8 1470.6 710.4 1466.4 710.8C1462.2 711.2 1457.2 711.5 1453.9 710.1C1450.6 708.7 1448.7 706.2 1446.4 702.6C1444.1 699.0 1441.7 694.2 1440.1 688.8C1438.5 683.4 1437.3 676.4 1437.0 670.0C1436.7 663.6 1437.5 656.0 1438.0 650.2C1438.5 644.4 1439.6 640.2 1440.2 635.2C1440.8 630.2 1441.0 624.1 1441.6 620.2C1442.2 616.3 1443.0 614.3 1444.0 612.0C1445.0 609.7 1445.8 608.1 1447.6 606.5C1449.4 604.9 1452.6 603.1 1455.1 602.3C1457.6 601.4 1460.1 600.9 1462.6 601.4Z" fill="#FFBF00"/>
<path d="M1458.1 614.9C1461.1 614.4 1464.6 614.2 1467.1 615.6C1469.6 617.0 1471.7 620.2 1473.2 623.2C1474.7 626.2 1475.0 630.2 1476.2 633.7C1477.5 637.2 1479.0 640.5 1480.7 644.2C1482.5 648.0 1484.7 652.2 1486.7 656.2C1488.7 660.2 1491.2 664.8 1492.7 668.3C1494.2 671.8 1496.5 674.0 1495.5 677.4C1494.5 680.8 1489.5 685.0 1486.5 688.8C1483.5 692.6 1481.0 697.5 1477.7 700.1C1474.4 702.7 1470.0 704.1 1466.4 704.5C1462.9 704.9 1459.5 704.2 1456.4 702.6C1453.3 701.0 1450.1 698.0 1447.6 695.1C1445.1 692.2 1442.9 689.0 1441.3 685.0C1439.7 681.0 1438.3 674.8 1438.2 671.0C1438.1 667.2 1440.0 665.8 1440.8 662.3C1441.6 658.8 1442.7 654.2 1443.1 650.2C1443.5 646.2 1443.0 642.2 1443.1 638.2C1443.2 634.2 1442.8 629.5 1443.8 626.2C1444.8 622.9 1446.7 620.5 1449.1 618.6C1451.5 616.7 1455.1 615.4 1458.1 614.9Z" fill="#FF8000"/>
<path d="M1458.1 630.7C1460.6 630.5 1463.7 630.5 1465.6 632.2C1467.5 634.0 1468.4 638.0 1469.4 641.2C1470.4 644.5 1470.3 648.2 1471.7 651.7C1473.1 655.2 1475.7 659.0 1477.7 662.3C1479.7 665.6 1483.2 668.3 1483.7 671.3C1484.2 674.3 1481.7 677.8 1480.7 680.3C1479.7 682.8 1479.7 683.8 1477.7 686.3C1475.7 688.8 1471.8 692.9 1468.9 695.1C1466.0 697.3 1463.1 699.9 1460.2 699.5C1457.3 699.1 1454.1 695.4 1451.4 692.6C1448.7 689.8 1445.8 686.0 1443.9 682.5C1442.0 679.0 1440.1 674.7 1440.1 671.3C1440.1 667.9 1442.8 665.3 1443.8 662.3C1444.8 659.3 1445.7 656.7 1446.1 653.2C1446.5 649.7 1445.3 644.5 1446.1 641.2C1446.8 638.0 1448.6 635.5 1450.6 633.7C1452.6 632.0 1455.6 631.0 1458.1 630.7Z" fill="#FF4000"/>
<path d="M1455.1 654.0C1457.0 653.5 1459.2 654.6 1461.1 656.2C1463.0 657.8 1465.3 661.3 1466.4 663.8C1467.5 666.3 1468.0 668.8 1467.9 671.3C1467.8 673.8 1467.0 676.8 1465.6 678.8C1464.2 680.8 1461.5 683.0 1459.6 683.3C1457.7 683.5 1455.9 682.3 1454.4 680.3C1452.9 678.3 1451.5 673.8 1450.6 671.3C1449.7 668.8 1449.2 667.3 1449.1 665.3C1449.0 663.3 1448.8 661.1 1449.8 659.2C1450.8 657.3 1453.2 654.5 1455.1 654.0Z" fill="#FF0000"/>
</g>
</g>
<g stroke="#000" fill="none">
<path d="M146.8 30V880" stroke-width="3.5"/>
<path d="M144.8 878.2H1106.6" stroke-width="3.5"/>
<path d="M130.6 801.6H146M130.6 652.2H146M130.6 502.8H146M130.6 353.3H146M130.6 203.9H146M130.6 54.5H146M138.4 876.3H146M138.4 726.9H146M138.4 577.5H146M138.4 428.1H146M138.4 278.6H146M138.4 129.2H146M165.7 879V894.5M251.1 879V894.5M336.5 879V894.5M421.9 879V894.5M507.3 879V894.5M592.6 879V894.5M678.0 879V894.5M763.4 879V894.5M848.8 879V894.5M934.2 879V894.5M1019.6 879V894.5M1105.0 879V894.5M208.4 879V887.2M293.8 879V887.2M379.2 879V887.2M464.6 879V887.2M550.0 879V887.2M635.3 879V887.2M720.7 879V887.2M806.1 879V887.2M891.5 879V887.2M976.9 879V887.2M1062.3 879V887.2" stroke-width="3.4"/>
<path d="M1353.3 30V878" stroke-width="4.2"/>
<path d="M1351.2 875.9H2313.4" stroke-width="4.4"/>
<path d="M1336.9 799.6H1352M1336.9 650.4H1352M1336.9 501.2H1352M1336.9 352.0H1352M1336.9 202.8H1352M1336.9 53.6H1352M1344.2 874.2H1352M1344.2 725.0H1352M1344.2 575.8H1352M1344.2 426.6H1352M1344.2 277.4H1352M1344.2 128.2H1352M1372.0 877V892.6M1457.4 877V892.6M1542.8 877V892.6M1628.2 877V892.6M1713.6 877V892.6M1799.0 877V892.6M1884.4 877V892.6M1969.8 877V892.6M2055.2 877V892.6M2140.6 877V892.6M2226.0 877V892.6M2311.4 877V892.6M1414.7 877V885.5M1500.1 877V885.5M1585.5 877V885.5M1670.9 877V885.5M1756.3 877V885.5M1841.7 877V885.5M1927.1 877V885.5M2012.5 877V885.5M2097.9 877V885.5M2183.3 877V885.5M2268.7 877V885.5" stroke-width="4.2"/>
</g>
<g class="tk">
<text x="121.8" y="809.1" text-anchor="end">300</text>
<text x="121.8" y="659.7" text-anchor="end">400</text>
<text x="121.8" y="510.3" text-anchor="end">500</text>
<text x="121.8" y="360.8" text-anchor="end">600</text>
<text x="121.8" y="211.4" text-anchor="end">700</text>
<text x="121.8" y="62.0" text-anchor="end">800</text>
<text x="165.7" y="926.9" text-anchor="middle">250</text>
<text x="251.1" y="926.9" text-anchor="middle">300</text>
<text x="336.5" y="926.9" text-anchor="middle">350</text>
<text x="421.9" y="926.9" text-anchor="middle">400</text>
<text x="507.3" y="926.9" text-anchor="middle">450</text>
<text x="592.6" y="926.9" text-anchor="middle">500</text>
<text x="678.0" y="926.9" text-anchor="middle">550</text>
<text x="763.4" y="926.9" text-anchor="middle">600</text>
<text x="848.8" y="926.9" text-anchor="middle">650</text>
<text x="934.2" y="926.9" text-anchor="middle">700</text>
<text x="1019.6" y="926.9" text-anchor="middle">750</text>
<text x="1105.0" y="926.9" text-anchor="middle">800</text>
<text x="1327.8" y="807.1" text-anchor="end">300</text>
<text x="1327.8" y="657.9" text-anchor="end">400</text>
<text x="1327.8" y="508.7" text-anchor="end">500</text>
<text x="1327.8" y="359.5" text-anchor="end">600</text>
<text x="1327.8" y="210.3" text-anchor="end">700</text>
<text x="1327.8" y="61.1" text-anchor="end">800</text>
<text x="1372.0" y="926.2" text-anchor="middle">250</text>
<text x="1457.4" y="926.2" text-anchor="middle">300</text>
<text x="1542.8" y="926.2" text-anchor="middle">350</text>
<text x="1628.2" y="926.2" text-anchor="middle">400</text>
<text x="1713.6" y="926.2" text-anchor="middle">450</text>
<text x="1799.0" y="926.2" text-anchor="middle">500</text>
<text x="1884.4" y="926.2" text-anchor="middle">550</text>
<text x="1969.8" y="926.2" text-anchor="middle">600</text>
<text x="2055.2" y="926.2" text-anchor="middle">650</text>
<text x="2140.6" y="926.2" text-anchor="middle">700</text>
<text x="2226.0" y="926.2" text-anchor="middle">750</text>
<text x="2311.4" y="926.2" text-anchor="middle">800</text>
</g>
<g class="tt">
<text transform="translate(643.9 973.7) scale(1.03 1)" text-anchor="middle">EX Wavelength (nm)</text>
<text transform="translate(1848.5 970.7) scale(1.03 1)" text-anchor="middle">EX Wavelength (nm)</text>
<text transform="translate(45.3 470.8) rotate(-90)" text-anchor="middle">EM Wavelength (nm)</text>
<text transform="translate(1251.4 470) rotate(-90)" text-anchor="middle">EM Wavelength (nm)</text>
</g>
<g id="colorbar">
<rect x="2332.2" y="52.10" width="51.6" height="25.10" fill="#808080"/>
<rect x="2332.2" y="76.70" width="51.6" height="24.60" fill="#FF0000"/>
<rect x="2332.2" y="100.80" width="51.6" height="24.60" fill="#FF4000"/>
<rect x="2332.2" y="124.90" width="51.6" height="24.60" fill="#FF8000"/>
<rect x="2332.2" y="149.00" width="51.6" height="24.60" fill="#FFBF00"/>
<rect x="2332.2" y="173.10" width="51.6" height="24.60" fill="#FFFF00"/>
<rect x="2332.2" y="197.20" width="51.6" height="24.60" fill="#AAFF00"/>
<rect x="2332.2" y="221.30" width="51.6" height="24.60" fill="#55FF00"/>
<rect x="2332.2" y="245.40" width="51.6" height="24.60" fill="#00FF00"/>
<rect x="2332.2" y="269.50" width="51.6" height="24.60" fill="#00FF40"/>
<rect x="2332.2" y="293.60" width="51.6" height="24.60" fill="#00FF80"/>
<rect x="2332.2" y="317.70" width="51.6" height="24.60" fill="#00FFBF"/>
<rect x="2332.2" y="341.80" width="51.6" height="24.60" fill="#00FFFF"/>
<rect x="2332.2" y="365.90" width="51.6" height="24.60" fill="#00BFFF"/>
<rect x="2332.2" y="390.00" width="51.6" height="24.60" fill="#0080FF"/>
<rect x="2332.2" y="414.10" width="51.6" height="24.60" fill="#0040FF"/>
<rect x="2332.2" y="438.20" width="51.6" height="48.10" fill="#0000FF"/>
</g>
<path d="M2308.6 30.3L2311 39" stroke="#00006a" stroke-width="1.2" fill="none"/>
</svg></body></html>
